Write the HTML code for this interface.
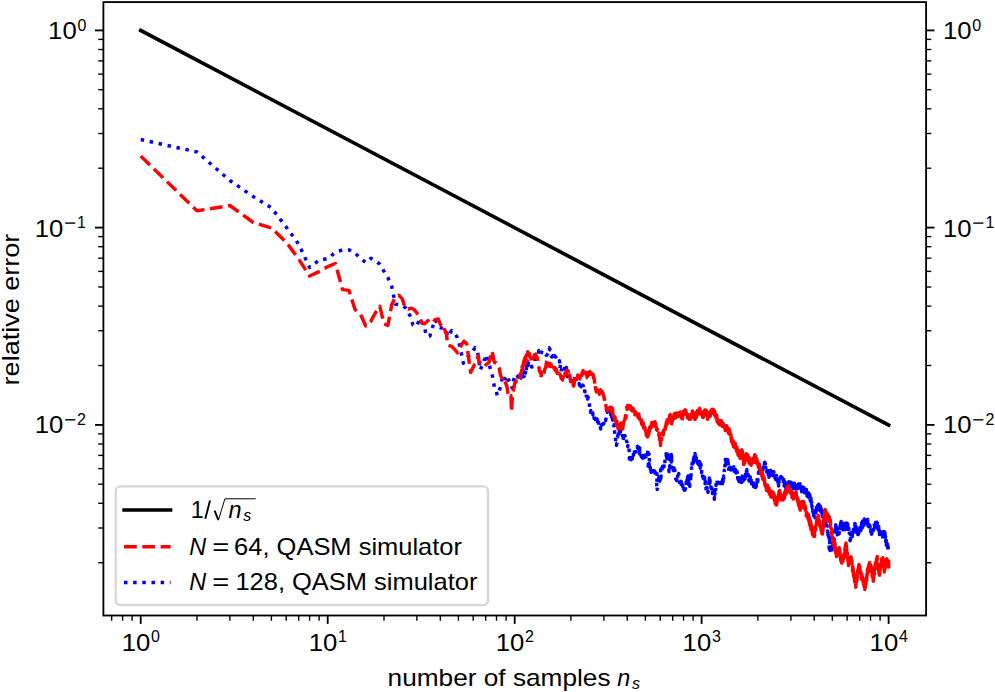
<!DOCTYPE html><html><head><meta charset="utf-8"><style>
html,body{margin:0;padding:0;background:#fff;width:995px;height:692px;overflow:hidden}
svg{display:block}
text{font-family:"Liberation Sans",sans-serif;fill:#000}
</style></head><body>
<svg width="995" height="692" viewBox="0 0 995 692">
<rect x="0" y="0" width="995" height="692" fill="#fff"/>
<defs><clipPath id="ax"><rect x="103.4" y="2.1" width="822.7" height="613.4"/></clipPath></defs>
<g clip-path="url(#ax)" fill="none">
<polyline points="140.7,139.5 197.0,152.0 229.9,180.5 253.3,196.6 271.4,207.8 286.2,227.0 298.7,244.2 309.6,267.5 319.1,260.2 327.7,258.6 335.4,252.3 342.5,249.9 349.0,249.9 355.0,253.0 360.6,258.6 365.8,262.6 370.8,258.3 375.4,261.0 379.8,264.2 384.0,271.3 387.9,277.7 391.7,286.4 395.3,304.0 398.8,304.7 400.4,304.7 405.6,307.8 410.4,316.4 413.0,325.1 416.5,326.4 419.9,318.6 424.3,326.8 426.4,335.9 429.9,335.9 432.5,327.3 435.1,319.5 439.0,327.3 445.9,329.2 447.8,336.7 451.7,330.5 456.9,336.7 459.5,345.1 461.5,354.2 463.4,363.3 465.4,359.4 470.6,354.2 475.1,347.7 477.7,352.3 479.0,361.4 480.3,370.1 481.6,366.6 482.7,364.7 483.8,360.7 484.9,358.8 486.2,354.6 487.1,358.2 488.1,363.3 489.4,365.6 490.7,369.7 491.7,373.1 492.7,377.4 493.6,382.7 494.6,388.1 495.5,389.1 496.4,391.9 497.2,395.5 498.3,393.7 499.4,390.2 500.5,387.1 501.8,379.5 502.8,378.8 503.7,382.4 504.6,379.3 505.5,377.1 506.3,375.3 507.2,377.3 508.1,380.2 508.9,380.0 509.7,382.8 510.5,384.6 511.3,385.6 512.1,387.8 512.8,388.1 513.5,380.9 514.5,377.1 515.4,374.3 516.2,374.4 517.0,375.0 517.8,376.7 518.6,377.2 519.3,377.7 520.1,378.7 520.8,378.0 521.6,376.1 522.3,376.7 523.0,376.0 523.8,376.7 524.5,375.8 525.2,372.1 525.8,372.0 526.5,367.8 527.1,367.3 527.8,366.9 528.4,363.5 527.7,365.6 527.0,365.2 526.3,368.3 525.6,369.7 524.9,370.1 524.2,372.1 523.5,371.4 522.8,373.6 522.1,374.4 521.4,375.4 520.7,376.0 520.0,378.3 520.8,378.2 521.6,376.4 522.3,376.6 523.1,374.3 523.9,375.9 524.6,374.0 525.2,373.4 525.9,371.1 526.5,367.6 527.2,366.2 527.8,365.4 528.5,363.0 529.1,364.1 529.8,362.8 530.4,362.3 531.1,363.4 531.7,367.1 532.4,366.2 533.0,364.0 533.7,361.9 534.3,360.9 535.0,357.1 535.6,357.2 536.3,356.4 536.9,356.5 537.6,354.9 538.2,353.8 538.9,350.4 539.4,351.3 539.9,351.6 540.5,353.9 541.0,354.6 541.6,352.1 542.1,352.6 542.7,353.1 543.2,353.3 543.8,354.5 544.4,355.1 545.0,354.1 545.5,353.4 546.1,355.2 546.7,355.3 547.2,354.3 547.7,354.1 548.2,351.4 548.7,349.1 549.3,347.8 549.8,349.9 550.2,349.5 550.7,354.7 551.2,356.2 551.7,356.9 552.2,356.9 552.7,355.7 553.2,356.0 553.7,355.2 554.1,357.6 554.6,355.6 555.1,356.0 555.6,357.2 556.1,357.7 556.6,359.0 557.1,358.5 557.6,358.8 558.0,359.9 558.5,360.1 559.0,361.7 559.5,360.8 560.0,364.8 560.5,364.2 561.0,362.8 560.5,364.9 560.1,367.1 559.7,368.9 560.1,367.9 560.6,370.9 561.0,371.5 561.5,369.3 561.9,369.4 562.4,367.7 562.9,367.7 563.3,368.8 563.8,368.4 564.2,370.8 564.7,367.9 565.1,367.2 565.5,371.1 566.0,369.3 566.4,367.5 566.8,369.2 567.3,366.9 567.7,369.0 568.1,370.9 567.7,371.5 567.3,372.0 567.0,371.2 566.6,372.9 566.2,373.2 566.6,376.1 567.0,375.3 567.5,376.7 567.9,375.0 568.3,374.9 568.8,377.7 569.2,378.8 569.6,378.5 570.1,378.6 570.5,380.2 570.9,381.3 571.4,380.6 571.7,381.5 572.1,380.4 572.5,378.5 572.9,378.2 573.2,378.9 573.6,378.5 574.0,380.0 574.3,381.3 574.7,379.1 575.1,381.4 575.5,381.8 575.8,381.7 576.2,379.1 576.6,378.5 576.9,379.1 577.3,379.5 577.7,380.1 578.1,382.6 578.4,384.5 578.8,384.8 579.2,383.6 579.5,384.6 579.9,385.5 580.2,382.4 580.6,385.3 580.9,386.7 581.3,386.3 581.6,386.3 582.0,385.2 582.3,384.0 582.7,387.1 583.0,385.1 583.4,387.6 583.7,388.6 584.1,386.9 584.4,388.0 584.7,391.7 585.0,391.8 585.4,390.1 585.7,391.0 586.0,391.8 586.3,396.1 586.7,396.3 587.0,393.7 587.3,397.7 587.6,399.1 588.0,398.2 588.3,397.3 588.6,400.2 588.9,400.1 589.3,401.5 589.6,408.2 589.9,408.5 590.2,409.9 590.5,412.4 590.8,410.4 591.1,413.1 591.4,413.4 591.7,410.8 592.0,411.5 592.3,412.2 592.6,412.5 592.9,414.7 593.2,413.6 593.5,414.9 593.8,413.9 594.1,418.4 594.4,416.1 594.7,417.1 595.0,418.3 595.3,420.4 595.6,418.5 595.9,421.5 596.2,419.9 596.5,420.5 596.8,421.0 597.1,418.9 597.4,421.6 597.7,420.8 598.0,420.3 598.3,425.0 598.6,422.2 598.9,424.3 599.2,426.1 599.5,425.7 599.8,425.0 600.1,426.6 600.4,427.3 600.7,429.0 600.9,425.0 601.2,427.0 601.5,425.0 601.7,424.8 602.0,427.0 602.3,425.2 602.5,425.1 602.8,425.8 603.1,426.3 603.4,423.4 603.6,423.9 603.9,422.9 604.2,422.2 604.5,422.5 604.7,420.4 605.0,420.1 605.3,419.1 605.6,420.8 605.9,418.8 606.1,418.2 606.4,417.0 606.6,411.7 606.9,411.8 607.2,412.3 607.4,412.0 607.7,408.4 607.9,408.6 608.2,410.6 608.4,408.8 608.7,410.0 608.9,409.3 609.2,412.8 609.4,413.7 609.7,414.6 609.9,410.8 610.2,414.1 610.4,414.1 610.6,411.4 610.9,415.8 611.1,416.5 611.4,412.6 611.6,416.9 611.9,414.1 612.1,414.8 612.4,417.9 612.6,420.0 612.8,419.3 613.0,423.8 613.3,425.1 613.5,424.9 613.8,424.8 614.0,426.3 614.3,429.4 614.5,428.0 614.7,433.6 615.0,435.6 615.2,434.8 615.5,438.1 615.7,441.3 616.0,442.2 616.3,441.2 616.5,445.5 616.8,443.3 617.0,443.3 617.3,437.3 617.6,437.2 617.8,435.2 618.0,438.8 618.3,435.3 618.5,433.8 618.8,434.8 619.0,437.0 619.3,435.8 619.5,431.9 619.8,430.6 620.0,434.5 620.2,431.8 620.5,431.9 620.7,427.7 621.0,426.9 621.2,429.9 621.5,427.7 621.7,427.2 622.0,433.8 622.2,433.6 622.5,436.1 622.8,433.5 623.0,438.2 623.2,433.7 623.5,438.5 623.7,436.3 624.0,435.8 624.2,437.2 624.5,439.6 624.7,435.9 625.0,435.6 625.2,438.4 625.5,437.3 625.8,437.0 626.0,437.8 626.3,438.2 626.5,440.2 626.8,441.8 627.1,442.8 627.3,446.5 627.6,444.6 627.8,446.7 628.0,445.6 628.3,447.4 628.5,446.3 628.8,448.4 629.0,447.9 629.3,452.9 629.3,459.0 629.5,456.7 629.8,458.3 630.0,460.9 630.2,455.9 630.5,459.9 630.7,457.6 631.0,457.8 631.2,459.7 631.5,457.0 631.7,457.5 631.9,458.4 632.2,460.1 632.4,456.2 632.7,458.9 632.9,458.1 633.2,457.5 633.4,454.7 633.6,452.8 633.8,449.6 634.1,449.7 634.3,449.0 634.6,452.7 634.8,449.5 635.1,448.7 635.3,447.9 635.6,452.1 635.8,452.0 636.1,450.5 636.3,447.9 636.6,447.4 636.8,447.4 637.1,448.0 637.3,446.3 637.6,448.1 637.8,447.0 638.1,451.2 638.3,451.3 638.6,448.9 638.8,447.1 639.1,451.4 639.3,447.6 639.6,447.9 639.8,445.9 640.1,448.2 640.3,448.8 640.1,450.0 639.8,449.2 639.5,452.1 639.3,450.1 639.0,452.7 639.3,451.8 639.5,453.7 639.7,451.6 640.0,451.6 640.2,453.4 640.5,453.0 640.7,455.2 641.0,455.0 641.2,456.4 641.5,455.9 641.7,456.3 641.9,457.4 642.2,454.5 642.4,454.2 642.7,458.2 642.9,453.3 643.2,456.7 643.4,456.2 643.7,452.6 643.9,457.2 644.2,457.5 644.4,455.9 644.7,456.5 644.9,456.9 645.2,452.8 645.4,455.1 645.7,454.9 645.9,456.8 646.2,456.6 646.4,456.5 646.7,454.9 646.9,456.5 647.2,455.1 647.4,454.9 647.7,452.0 647.9,450.6 648.2,451.0 648.4,452.1 648.7,450.4 648.9,454.6 649.2,452.7 649.4,453.0 649.4,460.1 649.2,461.5 648.9,461.4 648.6,459.5 648.4,465.3 648.1,466.1 648.4,465.0 648.6,465.6 648.9,466.7 649.1,463.6 649.4,468.0 649.6,465.5 649.9,464.8 650.1,466.4 650.4,469.6 650.6,466.8 650.9,470.4 651.1,472.3 651.4,469.7 651.6,469.2 651.9,470.0 652.1,471.4 652.4,472.0 652.6,471.3 652.9,471.6 653.1,468.3 653.4,468.9 653.6,469.7 653.9,472.9 654.1,470.4 654.4,472.1 654.6,468.9 654.9,469.6 655.1,471.3 655.3,474.1 655.6,474.7 655.8,475.0 656.0,473.1 656.3,474.9 656.5,475.0 656.8,475.4 657.0,473.7 657.2,478.8 657.0,477.2 656.8,484.5 656.6,486.9 656.8,482.4 657.0,486.1 657.2,489.4 657.5,488.6 657.7,483.8 658.0,481.0 658.3,478.9 658.5,481.7 658.8,477.1 659.0,479.3 659.2,476.5 659.5,478.7 659.7,481.2 659.9,476.1 660.2,480.1 660.4,478.1 660.7,480.3 660.9,479.1 661.1,476.1 660.9,478.2 660.7,473.7 660.5,469.0 660.7,468.6 660.9,471.3 661.2,470.7 661.4,469.5 661.6,468.3 661.9,469.2 662.1,468.8 662.3,471.7 662.6,466.3 662.8,470.6 663.0,470.9 663.3,466.2 663.5,470.9 663.7,469.3 663.9,469.0 664.2,463.9 664.4,463.0 664.6,461.7 664.8,464.0 665.0,460.1 665.2,458.0 665.5,457.8 665.7,456.2 665.9,454.1 666.1,453.8 666.3,457.7 666.6,454.4 666.8,458.4 667.0,454.3 667.2,454.5 667.5,456.0 667.7,454.1 667.9,455.4 668.1,459.0 668.4,458.7 668.6,458.3 668.8,457.2 669.0,459.1 669.3,459.3 669.5,457.0 669.7,458.1 669.9,454.0 670.2,458.3 670.4,456.7 670.6,458.6 670.8,458.0 671.1,455.9 671.3,454.5 671.5,460.0 671.7,455.1 672.0,457.3 672.2,456.6 672.0,457.0 671.7,460.5 671.5,462.7 671.3,459.0 671.1,462.1 670.9,460.7 670.7,463.0 670.4,462.7 670.2,462.0 670.0,462.7 669.8,463.8 669.6,468.8 669.4,467.1 669.1,466.1 668.9,471.1 669.1,471.6 669.4,468.2 669.6,466.2 669.8,466.5 670.0,465.8 670.2,467.3 670.4,465.7 670.7,466.5 670.9,466.6 671.1,468.4 671.3,470.3 671.5,469.4 671.7,467.3 672.0,467.2 672.2,467.8 672.4,466.9 672.6,466.6 672.8,464.8 673.0,466.1 673.3,470.3 673.5,465.0 673.7,468.1 673.9,469.6 674.1,471.7 674.3,468.4 674.6,469.5 674.8,470.1 675.0,471.7 675.2,472.8 675.4,476.6 675.6,477.7 675.9,479.6 676.1,476.0 676.3,475.8 676.5,479.7 676.7,480.5 676.9,477.5 677.2,477.9 677.4,474.0 677.6,476.1 677.8,479.1 678.0,478.1 678.3,478.0 678.5,478.4 678.7,473.5 678.9,474.8 679.1,477.3 679.3,481.8 679.6,483.1 679.8,485.0 680.0,484.0 680.2,483.8 680.4,484.9 680.6,483.3 680.9,484.2 681.1,481.3 681.3,486.3 681.5,483.2 681.7,487.8 681.9,486.4 682.2,485.0 682.4,484.6 682.6,486.1 682.8,489.3 683.0,490.4 683.2,487.4 683.5,487.9 683.7,491.5 683.9,492.5 684.1,490.5 684.3,488.7 684.5,490.3 684.7,485.8 684.9,486.9 685.1,487.1 685.3,489.4 685.4,486.7 685.6,487.4 685.8,484.1 686.0,482.3 686.2,482.2 686.4,486.5 686.6,484.7 686.8,482.0 687.0,480.0 687.2,482.8 687.4,483.7 687.6,481.9 687.8,480.7 688.0,483.1 688.2,484.5 688.4,479.9 688.7,477.8 688.9,478.9 689.1,478.5 689.3,479.3 689.5,475.4 689.7,478.3 689.5,478.1 689.3,476.8 689.1,475.1 688.9,480.1 688.7,476.1 688.5,479.5 688.3,475.9 688.1,476.0 687.9,479.6 687.7,476.8 687.6,481.1 687.4,478.4 687.2,476.6 687.4,477.3 687.6,478.9 687.8,480.9 688.0,483.0 688.2,478.4 688.4,480.3 688.6,479.6 688.8,484.8 689.0,480.0 689.2,479.8 689.4,480.2 689.6,482.7 689.8,486.3 690.0,484.1 690.2,481.0 690.4,480.5 690.6,478.9 690.8,474.0 691.0,472.0 691.1,475.6 691.3,473.3 691.5,467.7 691.7,470.6 691.9,466.4 692.1,463.9 692.4,461.3 692.6,459.8 692.8,458.3 693.0,459.6 693.2,459.6 693.4,463.0 693.6,457.3 693.8,462.2 694.0,456.9 694.2,457.4 694.4,459.9 694.6,459.5 694.8,456.5 695.0,453.6 695.2,456.7 695.3,456.3 695.5,460.1 695.7,455.8 695.9,457.3 696.1,461.0 696.3,455.8 696.5,458.5 696.7,461.4 696.9,461.5 697.1,457.1 697.3,457.3 697.5,457.7 697.7,463.4 697.8,459.4 698.0,462.7 698.2,463.9 698.4,460.6 698.6,460.4 698.8,465.0 699.0,463.1 699.1,461.0 699.3,464.2 699.5,461.8 699.7,462.2 699.9,461.0 700.1,466.4 700.3,468.0 700.5,466.8 700.7,469.4 700.9,464.1 701.1,466.0 701.3,468.1 701.5,471.8 701.6,472.6 701.8,469.8 702.0,469.8 702.2,471.8 702.4,473.0 702.6,476.6 702.8,472.7 703.0,477.2 703.1,477.3 703.3,478.3 703.5,478.5 703.7,478.0 703.9,476.7 704.1,477.2 704.3,478.0 704.5,481.2 704.7,477.2 704.9,479.1 705.1,483.8 705.3,481.6 705.5,481.6 705.6,482.5 705.8,486.9 706.0,486.6 706.2,491.3 706.4,491.1 706.5,492.3 706.7,488.1 706.9,487.4 707.1,488.0 707.3,491.0 707.4,492.8 707.6,491.6 707.8,490.7 708.0,492.4 708.1,491.6 708.3,489.9 708.5,488.4 708.7,487.0 708.9,483.8 709.1,478.2 709.3,480.8 709.4,478.0 709.6,480.5 709.8,479.9 710.0,483.0 710.1,480.2 710.3,481.2 710.5,481.9 710.7,482.1 710.9,487.5 711.0,486.2 711.2,485.3 711.4,486.3 711.6,490.7 711.8,488.2 711.9,487.0 712.1,491.3 712.3,490.9 712.5,493.6 712.7,488.5 712.8,491.5 713.0,494.2 713.2,495.0 713.4,496.0 713.6,491.0 713.7,493.2 713.9,492.6 714.1,493.7 714.3,499.3 714.5,497.4 714.6,498.0 714.8,492.7 715.0,494.3 715.1,490.0 715.3,487.7 715.5,489.9 715.7,489.8 715.9,483.3 716.0,485.4 716.2,484.4 716.4,480.7 716.6,481.6 716.8,480.0 716.9,480.3 717.1,480.6 717.3,482.7 717.5,483.0 717.6,480.0 717.8,478.7 718.0,480.6 718.1,482.8 718.3,479.5 718.5,480.3 718.7,479.5 718.8,483.2 719.0,481.5 719.2,478.7 719.4,479.2 719.5,481.3 719.7,482.6 719.9,483.4 720.1,480.1 720.2,480.9 720.4,484.6 720.6,483.0 720.8,482.4 720.9,482.8 721.1,487.3 721.3,483.4 721.4,485.3 721.6,484.2 721.8,483.9 721.9,486.2 722.1,486.4 722.3,481.6 722.4,479.9 722.6,482.7 722.8,478.7 722.9,476.7 723.1,481.7 723.2,477.8 723.4,479.5 723.6,476.1 723.7,478.3 723.9,474.8 724.1,472.0 724.2,470.3 724.4,472.3 724.5,471.4 724.7,471.7 724.9,464.9 725.0,466.4 725.2,462.8 725.4,461.7 725.5,457.5 725.7,458.6 725.9,460.3 726.0,463.1 726.2,458.1 726.4,460.8 726.6,463.0 726.7,464.3 726.9,459.5 727.1,459.3 727.3,464.8 727.4,465.2 727.6,462.2 727.8,459.7 727.9,465.5 728.1,462.3 728.3,467.6 728.4,467.7 728.6,471.0 728.8,468.6 728.9,472.4 729.1,468.5 729.3,469.5 729.4,472.1 729.6,471.7 729.7,467.3 729.9,467.3 730.1,468.2 730.2,468.7 730.4,467.6 730.6,465.7 730.7,466.2 730.9,469.1 731.0,470.0 731.2,464.2 731.4,467.3 731.5,468.8 731.7,464.3 731.9,469.7 732.0,465.2 732.2,468.5 732.3,468.4 732.5,469.1 732.7,467.2 732.8,468.1 733.0,469.4 733.2,468.6 733.3,470.3 733.5,469.1 733.6,469.2 733.8,466.8 734.0,470.8 734.1,470.2 734.3,468.7 734.5,472.3 734.6,472.6 734.8,470.8 734.9,469.2 735.1,471.4 735.3,469.2 735.4,469.6 735.6,471.8 735.8,469.9 735.9,472.4 736.1,473.1 736.2,470.3 736.4,474.4 736.6,471.0 736.7,475.5 736.9,476.0 737.1,474.5 737.2,471.8 737.4,475.1 737.5,474.6 737.7,478.6 737.9,473.7 738.0,478.6 738.2,479.9 738.4,478.5 738.5,479.4 738.7,475.7 738.9,481.1 739.0,478.2 739.2,481.6 739.3,481.4 739.5,476.7 739.7,480.8 739.8,481.8 740.0,476.3 740.2,478.3 740.3,481.0 740.5,477.3 740.6,482.2 740.8,478.2 741.0,481.9 741.1,477.6 741.3,479.8 741.5,482.4 741.6,477.7 741.8,477.9 741.9,479.3 742.1,478.0 742.3,476.1 742.4,476.9 742.6,476.6 742.8,481.5 742.9,479.7 743.1,481.0 743.2,476.2 743.4,480.1 743.6,475.6 743.7,478.2 743.9,478.6 744.0,476.5 744.2,479.5 744.3,477.2 744.5,477.1 744.7,478.8 744.8,473.4 745.0,478.9 745.1,476.3 745.3,474.5 745.4,476.8 745.6,473.1 745.7,477.5 745.9,474.6 746.0,472.9 746.2,475.2 746.4,472.8 746.5,470.8 746.7,474.2 746.8,469.5 747.0,474.2 747.1,471.8 747.3,475.6 747.5,479.2 747.6,477.9 747.8,478.5 747.9,476.3 748.1,474.4 748.2,474.8 748.4,475.7 748.6,478.8 748.7,477.7 748.9,478.4 749.0,481.0 749.2,476.2 749.3,476.9 749.5,479.8 749.6,475.8 749.8,475.8 750.0,478.2 750.1,476.7 750.3,478.5 750.4,477.7 750.6,480.2 750.7,480.4 750.9,478.0 751.0,480.9 751.2,480.1 751.3,478.1 751.5,483.6 751.6,479.2 751.8,478.8 751.9,478.7 752.1,482.4 752.2,484.1 752.4,483.7 752.5,481.5 752.7,480.8 752.8,479.3 753.0,483.7 753.1,483.3 753.3,482.1 753.4,484.3 753.6,483.1 753.7,486.6 753.9,485.4 754.0,482.5 754.2,486.9 754.3,481.5 754.5,484.9 754.6,484.3 754.8,483.4 754.9,482.1 755.1,486.7 755.2,481.6 755.4,485.0 755.5,487.5 755.7,482.2 755.8,482.5 756.0,485.0 756.1,484.3 756.3,485.0 756.4,486.1 756.6,481.8 756.7,482.6 756.9,481.9 757.0,479.7 757.2,484.6 757.3,483.3 757.5,482.3 757.6,477.1 757.7,482.0 757.9,480.8 758.0,478.4 758.2,479.2 758.3,476.3 758.5,473.8 758.6,472.0 758.8,471.8 758.9,469.5 759.0,470.5 759.2,472.1 759.3,470.8 759.5,471.7 759.6,470.7 759.8,467.8 759.9,469.6 760.1,468.7 760.2,471.0 760.3,469.2 760.5,467.4 760.6,469.8 760.8,471.8 760.9,466.9 761.1,471.1 761.2,465.4 761.4,466.9 761.5,466.7 761.6,469.9 761.8,471.2 761.9,469.8 762.1,466.9 762.2,470.3 762.4,466.4 762.5,465.6 762.7,469.8 762.8,467.8 762.9,467.9 763.1,467.6 763.2,469.4 763.4,465.8 763.5,468.0 763.7,466.9 763.8,467.7 764.0,464.8 764.1,466.4 764.2,465.2 764.4,463.3 764.5,462.4 764.7,465.5 764.8,462.3 765.0,468.2 765.1,463.6 765.3,463.2 765.4,464.1 765.6,469.9 765.7,466.5 765.9,465.6 766.0,465.2 766.2,465.7 766.3,470.4 766.5,470.4 766.6,471.2 766.8,471.9 766.9,468.0 767.1,471.8 767.2,470.8 767.4,474.2 767.5,474.6 767.6,475.5 767.8,470.6 767.9,476.0 768.1,476.5 768.2,476.9 768.3,471.6 768.5,472.4 768.6,472.0 768.8,471.7 768.9,477.2 769.0,477.1 769.2,476.1 769.3,477.6 769.5,476.5 769.6,474.4 769.7,473.4 769.9,472.9 770.0,476.8 770.2,472.8 770.3,473.1 770.5,473.3 770.6,470.3 770.8,471.4 770.9,471.1 771.1,473.5 771.2,471.4 771.3,471.2 771.5,475.6 771.6,472.7 771.8,475.1 771.9,473.8 772.1,470.1 772.2,472.7 772.4,473.0 772.5,475.3 772.6,472.7 772.8,475.2 772.9,474.2 773.1,472.3 773.2,476.6 773.4,471.7 773.5,476.7 773.7,472.6 773.8,471.6 773.9,473.0 774.1,476.8 774.2,478.4 774.3,472.1 774.5,475.5 774.6,475.6 774.8,477.7 774.9,473.9 775.0,476.0 775.2,475.2 775.3,478.5 775.4,474.9 775.6,479.5 775.7,475.3 775.8,475.0 776.0,478.3 776.1,477.2 776.3,474.8 776.4,478.7 776.5,475.5 776.7,480.6 776.8,480.5 777.0,481.5 777.1,480.9 777.2,479.6 777.4,480.4 777.5,480.8 777.7,484.5 777.8,479.7 777.9,485.4 778.1,480.2 778.2,481.9 778.3,482.0 778.5,485.9 778.6,483.0 778.8,481.9 778.9,485.0 779.0,480.4 779.2,481.6 779.3,481.8 779.4,483.0 779.6,482.7 779.7,481.8 779.9,479.5 780.0,479.1 780.1,477.7 780.3,482.0 780.4,480.5 780.5,480.7 780.7,476.7 780.8,478.2 780.9,480.6 781.1,479.5 781.2,476.6 781.4,479.0 781.5,482.0 781.6,477.9 781.8,477.7 781.9,478.6 782.0,481.4 782.2,482.5 782.3,478.1 782.4,478.3 782.6,479.1 782.7,479.7 782.8,481.2 783.0,479.0 783.1,480.2 783.2,479.5 783.4,484.8 783.5,483.4 783.7,479.4 783.8,485.2 783.9,479.7 784.1,481.8 784.2,486.0 784.3,485.0 784.5,484.9 784.6,483.2 784.8,481.9 784.9,485.1 785.0,481.9 785.2,482.8 785.3,484.3 785.5,482.2 785.6,484.9 785.7,487.8 785.9,487.4 786.0,486.4 786.1,487.1 786.3,485.7 786.4,483.4 786.6,486.2 786.7,484.7 786.8,486.7 787.0,487.6 787.1,484.2 787.2,485.0 787.4,485.9 787.5,483.5 787.6,482.0 787.8,485.1 787.9,485.9 788.0,485.0 788.2,484.3 788.3,485.0 788.4,483.7 788.6,483.2 788.7,481.8 788.9,480.6 789.0,482.5 789.1,478.8 789.3,480.7 789.4,483.3 789.5,483.0 789.7,482.7 789.8,480.3 789.9,481.7 790.0,482.1 790.2,483.4 790.3,482.2 790.4,484.1 790.6,486.0 790.7,481.3 790.8,484.6 791.0,485.6 791.1,483.2 791.2,484.1 791.3,487.5 791.5,481.5 791.6,485.0 791.7,482.7 791.9,487.0 792.0,488.1 792.1,485.3 792.3,482.6 792.4,485.8 792.5,485.6 792.6,486.9 792.8,485.6 792.9,486.4 793.0,487.8 793.2,485.8 793.3,485.1 793.4,488.7 793.6,483.9 793.7,487.1 793.8,485.2 793.9,487.7 794.1,483.5 794.2,489.2 794.3,485.2 794.5,483.2 794.6,484.7 794.7,485.6 794.9,483.1 795.0,485.8 795.1,485.9 795.2,487.7 795.4,485.4 795.5,484.8 795.6,484.5 795.8,487.8 795.9,489.1 796.0,486.3 796.2,484.3 796.3,488.1 796.4,485.3 796.5,484.1 796.7,483.5 796.8,487.8 796.9,487.9 797.1,486.7 797.2,485.6 797.3,486.2 797.5,483.9 797.6,488.8 797.7,484.7 797.8,486.6 798.0,487.7 798.1,487.6 798.2,485.3 798.4,484.1 798.5,485.8 798.6,482.9 798.8,487.6 798.9,484.4 799.0,487.6 799.1,483.7 799.3,484.4 799.4,483.6 799.5,484.7 799.7,483.0 799.8,482.1 799.9,487.1 800.1,484.5 800.2,484.5 800.3,485.1 800.4,486.5 800.6,486.5 800.7,488.1 800.8,488.5 801.0,486.8 801.1,490.8 801.2,490.6 801.4,485.6 801.5,490.9 801.6,491.7 801.7,490.9 801.9,486.7 802.0,491.4 802.1,490.1 802.3,486.1 802.4,486.1 802.5,492.4 802.7,490.5 802.8,487.8 802.9,486.9 803.0,487.2 803.2,487.9 803.3,491.5 803.4,488.7 803.6,487.5 803.7,492.5 803.8,491.8 804.0,487.8 804.1,492.6 804.2,490.8 804.3,492.0 804.5,491.3 804.6,492.8 804.7,492.2 804.9,492.6 805.0,488.5 805.1,492.0 805.2,491.1 805.4,492.7 805.5,490.8 805.6,494.0 805.7,492.0 805.9,490.2 806.0,490.2 806.1,489.8 806.2,492.3 806.4,489.6 806.5,492.5 806.6,490.6 806.7,493.0 806.9,493.3 807.0,493.7 807.1,496.1 807.2,490.6 807.3,496.3 807.5,494.0 807.6,494.8 807.7,495.7 807.8,497.0 808.0,494.1 808.1,494.6 808.2,498.4 808.3,492.7 808.5,496.6 808.6,496.8 808.7,493.0 808.8,497.0 809.0,497.7 809.1,499.5 809.2,495.7 809.3,500.2 809.5,497.3 809.6,497.3 809.7,500.2 809.8,494.7 809.9,499.4 810.1,499.0 810.2,497.3 810.3,501.0 810.5,498.0 810.6,499.0 810.7,499.6 810.9,501.5 811.0,498.0 811.1,499.8 811.2,499.9 811.4,501.1 811.5,504.2 811.6,502.0 811.8,506.8 811.9,505.3 812.0,507.2 812.1,506.1 812.3,508.1 812.4,511.7 812.5,510.0 812.6,511.3 812.8,508.7 812.9,509.0 813.0,509.4 813.1,511.7 813.3,512.5 813.4,513.9 813.5,509.4 813.6,514.3 813.8,515.8 813.9,514.0 814.0,511.2 814.1,513.3 814.3,511.8 814.4,513.4 814.5,518.7 814.6,517.0 814.7,516.9 814.9,517.4 815.0,517.7 815.1,515.3 815.2,514.9 815.4,514.6 815.5,514.6 815.6,513.5 815.7,513.6 815.9,510.1 816.0,512.7 816.1,510.8 816.2,512.4 816.4,507.6 816.5,507.7 816.6,506.3 816.7,510.8 816.9,511.3 817.0,509.1 817.1,506.8 817.2,509.4 817.3,509.1 817.5,507.6 817.6,505.6 817.7,505.9 817.8,506.7 818.0,506.0 818.1,506.8 818.2,508.2 818.3,510.1 818.5,504.3 818.6,507.7 818.7,504.2 818.8,504.7 819.0,509.3 819.1,507.7 819.2,510.0 819.3,506.9 819.5,504.0 819.6,506.5 819.7,507.8 819.8,510.1 819.9,510.8 820.1,507.8 820.2,507.7 820.3,506.0 820.4,510.0 820.5,507.4 820.7,507.4 820.8,506.8 820.9,507.1 821.0,512.0 821.1,508.6 821.2,514.7 821.4,509.4 821.5,515.0 821.6,510.6 821.7,510.4 821.9,515.5 822.0,512.8 822.1,516.6 822.2,513.4 822.3,513.0 822.5,518.3 822.6,518.4 822.7,519.8 822.8,519.5 823.0,515.7 823.1,519.8 823.2,520.5 823.3,519.0 823.4,522.3 823.6,518.0 823.7,522.9 823.8,521.4 823.9,516.9 824.0,517.1 824.1,521.5 824.3,522.8 824.4,518.1 824.5,519.8 824.6,522.8 824.7,519.2 824.9,524.0 825.0,521.7 825.1,519.0 825.2,521.2 825.3,522.8 825.4,522.1 825.6,523.8 825.7,520.5 825.8,525.3 825.9,522.9 826.0,525.3 826.2,525.6 826.3,524.7 826.4,525.0 826.5,528.1 826.7,529.7 826.8,529.1 826.9,528.2 827.0,526.8 827.1,525.8 827.3,532.3 827.4,531.0 827.5,532.3 827.6,529.5 827.7,532.0 827.9,535.2 828.0,535.0 828.1,534.1 828.2,532.9 828.3,534.4 828.5,538.2 828.6,535.5 828.7,538.2 828.8,538.4 828.9,541.1 829.0,540.6 829.2,537.1 829.3,535.3 829.4,537.2 829.5,538.3 829.6,539.5 829.7,541.1 829.8,541.6 830.0,536.1 830.1,541.4 830.2,541.4 830.3,541.8 830.4,539.9 830.5,538.0 830.7,541.9 830.8,541.7 830.9,541.0 830.8,543.0 830.6,539.7 830.5,538.4 830.4,542.0 830.3,544.1 830.2,540.6 830.1,544.7 829.9,546.4 829.8,542.2 829.7,545.2 829.6,546.1 829.5,545.2 829.3,543.9 829.2,544.7 829.1,548.5 829.2,548.9 829.3,546.8 829.5,544.4 829.6,549.3 829.7,549.2 829.8,545.8 829.9,548.2 830.0,550.4 830.2,550.4 830.3,548.1 830.4,548.0 830.5,548.8 830.6,546.3 830.8,546.4 830.9,546.5 831.0,550.1 831.1,547.9 831.2,549.4 831.4,548.4 831.5,549.3 831.6,547.0 831.7,546.4 831.8,552.1 831.9,547.4 832.1,545.0 832.2,547.9 832.3,548.4 832.4,543.6 832.5,545.9 832.7,543.7 832.8,544.2 832.9,540.3 833.0,539.8 833.1,545.6 833.2,544.2 833.4,541.1 833.5,541.0 833.6,538.4 833.7,541.2 833.8,538.3 834.0,541.2 834.1,539.4 834.2,539.1 834.3,539.5 834.4,533.9 834.5,531.7 834.7,531.9 834.8,531.0 834.9,529.5 835.0,528.5 835.1,531.0 835.3,532.3 835.4,528.7 835.5,531.1 835.6,530.0 835.7,524.7 835.8,528.5 835.9,527.5 836.1,525.9 836.2,531.8 836.3,527.4 836.4,529.7 836.5,530.5 836.6,532.9 836.7,531.3 836.9,529.7 837.0,530.4 837.1,528.7 837.2,534.4 837.3,534.8 837.4,530.0 837.5,529.0 837.6,530.8 837.8,531.7 837.9,535.7 838.0,535.9 838.1,535.8 838.2,530.8 838.3,535.4 838.4,534.5 838.6,533.7 838.7,535.6 838.8,529.0 838.9,529.2 839.0,532.9 839.1,533.8 839.3,531.7 839.4,528.8 839.5,530.3 839.6,531.1 839.7,526.3 839.8,527.4 839.9,526.6 840.1,525.4 840.2,527.4 840.3,524.9 840.4,525.0 840.5,524.0 840.6,527.2 840.8,522.4 840.9,526.7 841.0,522.9 841.1,521.4 841.2,527.0 841.3,521.9 841.5,526.3 841.6,526.2 841.7,526.8 841.8,522.1 841.9,524.6 842.0,522.6 842.1,528.6 842.3,528.4 842.4,527.3 842.5,526.5 842.6,526.2 842.7,529.8 842.8,527.9 843.0,529.2 843.1,526.4 843.2,527.3 843.3,526.6 843.4,531.3 843.5,530.0 843.6,527.1 843.7,531.7 843.9,527.4 844.0,528.2 844.1,526.3 844.2,526.8 844.3,530.4 844.4,526.8 844.5,525.4 844.7,527.4 844.8,526.0 844.9,529.7 845.0,524.2 845.1,529.7 845.2,523.3 845.3,528.7 845.4,527.0 845.6,523.7 845.7,525.2 845.8,523.7 845.9,523.3 846.0,522.7 846.1,524.0 846.2,528.3 846.4,528.6 846.5,528.2 846.6,522.9 846.7,524.3 846.8,528.6 846.9,523.1 847.0,527.8 847.1,525.0 847.3,529.8 847.4,523.5 847.5,529.0 847.6,526.0 847.7,524.8 847.8,524.1 847.9,529.8 848.0,527.9 848.2,525.8 848.3,527.7 848.4,531.0 848.5,526.6 848.6,529.1 848.7,527.1 848.8,528.2 848.9,533.0 849.0,533.5 849.2,530.9 849.3,531.0 849.4,531.9 849.5,536.3 849.6,536.4 849.7,535.8 849.8,536.2 849.9,539.8 850.0,540.2 850.1,540.7 850.3,538.9 850.4,536.1 850.5,535.0 850.6,539.2 850.7,536.8 850.8,538.7 850.9,534.0 851.0,538.8 851.2,535.4 851.3,538.6 851.4,538.5 851.5,535.8 851.6,532.4 851.7,538.1 851.8,535.0 851.9,537.4 852.1,533.2 852.2,532.4 852.3,536.5 852.4,533.1 852.5,531.6 852.6,532.6 852.7,533.8 852.8,529.5 852.9,532.6 853.1,531.8 853.2,532.0 853.3,529.0 853.4,532.7 853.5,533.0 853.6,533.0 853.7,529.0 853.8,531.3 853.9,528.8 854.0,530.9 854.1,526.0 854.2,531.1 854.4,531.3 854.5,527.9 854.6,527.7 854.7,527.5 854.8,527.2 854.9,523.4 855.0,529.5 855.1,524.2 855.2,524.2 855.3,523.9 855.4,525.1 855.5,529.2 855.7,524.2 855.8,524.9 855.9,529.2 856.0,526.1 856.1,525.2 856.2,529.4 856.3,529.5 856.4,529.4 856.5,530.9 856.6,527.1 856.7,532.6 856.8,531.8 857.0,527.6 857.1,528.4 857.2,531.1 857.3,531.4 857.4,530.2 857.5,529.4 857.6,531.6 857.7,530.1 857.8,532.9 857.9,534.6 858.0,529.6 858.1,532.3 858.3,533.3 858.4,529.2 858.5,533.4 858.6,534.0 858.7,530.1 858.8,530.2 858.9,532.8 859.0,530.5 859.1,529.5 859.2,532.9 859.3,531.7 859.5,528.5 859.6,527.7 859.7,528.2 859.8,528.6 859.9,532.1 860.0,530.8 860.1,531.3 860.2,530.5 860.3,530.5 860.4,525.0 860.5,527.9 860.6,530.7 860.8,530.4 860.9,525.6 861.0,526.6 861.1,527.8 861.2,525.8 861.3,526.8 861.4,523.5 861.5,525.7 861.6,526.0 861.7,522.6 861.8,523.2 861.9,528.6 862.1,527.1 862.2,528.0 862.3,525.8 862.4,526.8 862.5,527.1 862.6,526.9 862.7,521.0 862.8,524.9 862.9,522.2 863.0,524.7 863.1,521.8 863.2,523.5 863.4,525.8 863.5,523.6 863.6,520.9 863.7,522.5 863.8,521.8 863.9,525.1 864.0,520.4 864.1,520.3 864.2,522.5 864.3,518.9 864.4,522.1 864.5,524.6 864.6,521.6 864.7,520.0 864.8,521.4 865.0,521.8 865.1,519.3 865.2,519.1 865.3,519.2 865.4,520.3 865.5,521.1 865.6,520.3 865.7,520.0 865.8,519.0 865.9,522.1 866.0,524.1 866.1,522.6 866.2,522.3 866.3,522.9 866.4,519.9 866.5,523.3 866.6,521.7 866.7,522.3 866.8,522.7 866.9,521.8 867.1,520.7 867.2,520.3 867.3,520.2 867.4,522.2 867.5,521.3 867.6,522.9 867.7,519.3 867.8,521.9 867.9,525.6 868.0,521.6 868.1,524.1 868.2,523.9 868.3,522.7 868.4,527.7 868.5,523.3 868.6,526.8 868.7,522.9 868.8,522.6 868.9,528.3 869.0,525.6 869.1,523.3 869.2,525.8 869.3,526.4 869.4,528.6 869.6,524.7 869.7,525.7 869.8,530.9 869.9,529.7 870.0,526.0 870.1,527.5 870.2,527.8 870.3,530.2 870.4,530.0 870.5,531.8 870.6,531.8 870.7,530.0 870.8,531.7 870.9,531.9 871.0,532.2 871.1,530.5 871.2,532.8 871.3,532.5 871.4,534.1 871.5,529.0 871.6,534.2 871.7,528.6 871.8,533.9 871.9,532.9 872.0,532.5 872.1,535.3 872.2,532.4 872.3,531.0 872.4,533.2 872.5,533.5 872.6,531.4 872.8,529.5 872.9,529.7 873.0,529.4 873.1,530.9 873.2,527.7 873.3,528.0 873.4,528.8 873.5,527.4 873.6,526.6 873.7,529.5 873.8,529.6 873.9,526.9 874.0,526.2 874.1,524.1 874.2,524.6 874.3,523.3 874.4,525.8 874.5,525.6 874.6,521.9 874.7,527.4 874.8,523.3 874.9,526.7 875.0,526.6 875.1,527.3 875.2,522.1 875.3,523.5 875.4,526.7 875.5,520.5 875.7,520.6 875.8,524.0 875.9,523.5 876.0,526.2 876.1,525.1 876.2,523.4 876.3,526.4 876.4,523.1 876.5,523.0 876.6,524.0 876.7,522.3 876.8,522.3 876.9,524.1 877.0,522.7 877.1,527.0 877.2,525.4 877.3,524.6 877.4,522.0 877.5,524.1 877.6,524.5 877.7,525.8 877.8,526.1 877.9,528.4 878.0,529.3 878.1,526.3 878.2,526.2 878.3,527.7 878.4,530.4 878.5,526.3 878.6,528.0 878.7,530.4 878.8,526.6 878.9,528.1 879.0,533.0 879.1,532.5 879.2,530.9 879.3,528.7 879.4,534.5 879.5,533.6 879.6,535.0 879.7,536.6 879.8,536.4 879.9,533.4 880.0,531.7 880.1,532.7 880.2,534.3 880.3,534.4 880.4,532.3 880.6,532.4 880.7,535.5 880.8,535.4 880.9,533.9 881.0,538.3 881.1,536.0 881.2,532.1 881.3,534.7 881.4,537.3 881.5,534.2 881.6,536.9 881.7,532.3 881.8,534.5 881.9,538.2 882.0,536.6 882.1,537.2 882.2,534.2 882.3,536.3 882.4,536.8 882.5,534.6 882.6,537.0 882.7,536.0 882.8,539.0 882.9,535.9 883.0,534.6 883.1,532.4 883.2,532.5 883.4,536.3 883.5,531.7 883.6,531.5 883.7,531.7 883.8,533.9 883.9,535.7 884.0,534.1 884.1,535.2 884.2,530.0 884.3,529.4 884.4,534.3 884.5,531.8 884.6,535.0 884.7,533.0 884.8,532.3 884.9,533.4 885.0,532.8 885.1,538.7 885.2,537.1 885.3,536.0 885.4,537.2 885.5,537.2 885.6,535.5 885.7,541.7 885.8,540.0 885.9,543.0 886.0,540.0 886.1,541.6 886.2,539.6 886.3,538.6 886.4,545.1 886.5,545.0 886.6,541.8 886.7,546.2 886.8,546.1 886.9,543.1 887.0,545.6 887.1,548.2 887.2,545.3 887.3,548.7 887.4,544.1 887.5,545.4 887.6,547.9 887.7,544.7 887.8,545.6 887.9,549.7 888.0,547.3 888.1,549.6 888.2,546.1 888.3,545.9" stroke="#0000ff" stroke-width="3.46" stroke-dasharray="3.46 5.70" stroke-linejoin="round" stroke-linecap="butt"/>
<polyline points="140.7,156.1 197.0,210.8 229.9,205.5 253.3,222.5 271.4,228.0 286.2,242.2 298.7,259.0 309.6,276.0 319.1,271.6 327.7,266.6 335.4,263.5 342.5,289.6 349.0,290.4 355.0,309.5 360.6,314.5 365.8,326.0 370.8,321.4 375.4,312.7 379.8,306.3 384.0,323.8 387.9,325.4 391.7,304.7 395.3,297.0 398.8,295.2 402.1,298.6 405.3,308.0 408.3,309.0 411.3,308.2 414.1,309.5 416.9,313.0 419.6,318.0 422.1,323.0 424.6,323.8 427.1,321.5 429.4,319.5 431.7,317.6 433.9,319.9 436.1,319.5 438.2,319.0 440.3,324.2 442.5,327.3 444.2,328.6 443.9,327.6 446.5,334.7 447.8,345.1 451.7,346.4 454.3,349.0 457.6,352.9 462.1,343.8 464.1,341.2 466.7,343.8 468.0,352.9 469.3,363.3 470.6,372.4 472.5,368.5 474.5,364.6 476.4,363.3 478.4,355.5 479.0,362.0 480.3,362.8 481.6,364.7 482.7,364.8 483.8,365.7 484.9,366.2 486.2,364.4 487.5,363.6 488.8,362.7 490.1,358.9 491.4,351.0 492.7,354.0 494.0,361.3 494.8,362.8 495.7,362.6 496.6,363.7 497.4,363.8 498.3,366.2 499.2,368.1 500.5,375.1 501.8,378.2 502.6,378.3 503.5,376.9 504.4,378.9 505.2,381.8 506.1,384.3 507.0,386.8 508.0,393.6 508.9,397.1 509.9,396.4 510.9,395.6 511.5,411.6 512.3,398.2 513.5,389.0 514.1,386.9 514.8,382.7 515.8,382.1 516.7,380.0 517.7,379.7 518.7,381.7 519.3,378.9 520.0,378.2 520.6,373.5 521.3,372.5 521.9,369.9 522.6,368.9 523.2,366.9 523.9,363.3 524.5,360.6 525.2,357.1 525.8,356.8 526.5,354.8 527.1,354.3 527.8,354.6 528.4,355.5 529.1,354.9 529.7,353.8 529.0,357.3 528.3,358.8 527.6,359.8 526.9,359.9 526.2,361.6 525.5,361.2 524.8,364.4 524.1,364.8 523.4,365.1 522.7,365.6 522.0,369.3 521.3,370.9 522.0,366.9 522.6,367.8 523.3,364.3 523.9,361.2 524.6,359.3 525.2,358.6 525.9,357.2 526.5,352.8 527.2,352.9 527.8,351.7 528.5,354.5 529.1,353.9 529.8,356.4 530.4,358.0 531.1,357.7 531.7,360.7 532.4,357.9 533.0,356.7 533.7,358.1 534.3,355.0 535.0,354.5 535.6,354.1 536.3,356.8 536.9,357.2 537.6,358.7 538.2,365.5 538.9,367.5 539.5,371.1 540.2,372.2 540.8,371.6 541.5,373.2 540.8,377.3 541.5,376.4 542.1,375.0 542.8,373.5 543.4,372.5 544.1,372.3 544.7,369.4 545.4,367.9 546.0,365.7 546.7,360.6 547.3,362.2 548.0,366.0 548.5,364.7 549.0,365.2 549.5,363.5 550.0,365.5 550.6,366.5 551.1,364.2 551.5,366.3 552.0,366.2 552.5,363.8 553.0,366.7 553.5,366.7 554.0,368.2 554.5,367.5 555.0,369.7 555.4,370.7 555.9,368.7 556.4,369.6 556.9,372.2 557.4,373.5 557.9,370.9 558.4,371.8 558.9,373.4 559.3,373.2 559.8,374.4 560.3,375.2 560.8,376.5 561.2,378.5 561.6,378.4 562.1,378.5 562.6,380.0 563.1,376.7 563.6,378.8 564.0,378.2 564.4,375.1 564.9,373.5 565.3,375.2 565.6,372.2 566.0,371.4 566.4,371.8 566.8,372.2 567.2,370.2 567.6,371.7 568.0,372.2 568.4,374.9 568.8,373.7 569.2,376.7 569.6,374.9 570.1,376.9 570.5,379.4 570.9,381.6 571.4,380.9 571.8,381.9 572.2,383.4 572.7,387.1 573.1,384.6 573.5,386.1 574.0,385.2 574.4,380.8 574.8,379.6 575.1,380.4 575.5,378.1 575.9,377.3 576.3,375.2 576.7,374.3 577.1,375.0 577.5,377.2 577.9,374.9 578.3,375.5 578.7,376.1 579.0,376.3 579.4,376.6 579.8,379.1 580.2,374.9 580.6,373.5 580.9,377.0 581.3,376.0 581.7,375.7 582.1,372.5 582.4,374.1 582.8,373.9 583.1,370.5 583.4,372.8 583.7,373.1 584.1,372.2 584.4,371.5 584.7,370.7 585.0,371.3 585.4,371.1 585.7,370.7 586.0,373.4 586.3,372.3 586.7,375.7 587.0,373.2 587.3,378.1 587.6,378.1 588.0,378.6 588.3,377.8 588.6,377.1 588.9,375.0 589.3,371.7 589.6,374.5 589.9,371.8 590.2,372.4 590.6,374.1 590.9,373.4 591.2,372.9 591.5,375.4 591.9,373.9 592.2,372.6 592.5,372.1 592.8,375.1 593.2,374.8 593.5,377.9 593.8,377.5 594.1,378.4 594.5,381.6 594.8,384.6 595.1,383.1 595.4,387.7 595.8,389.7 596.1,390.4 596.4,391.8 596.7,389.1 597.0,392.3 597.3,393.6 597.6,389.8 597.9,391.0 598.2,391.1 598.5,392.5 598.8,392.2 599.0,392.6 599.3,394.2 599.6,390.2 599.9,390.3 600.2,390.4 600.4,390.2 600.7,389.8 601.0,394.1 601.3,393.3 601.6,389.8 601.8,392.3 602.1,391.7 602.4,392.1 602.7,392.6 603.0,394.5 603.2,394.6 603.6,395.4 603.9,396.5 604.1,398.5 604.4,398.7 604.7,402.2 604.9,404.3 605.2,403.9 605.4,403.2 605.7,404.5 606.0,406.2 606.2,408.2 606.5,409.9 606.7,407.9 607.0,410.2 607.2,409.4 607.5,408.5 607.7,408.3 608.0,409.0 608.2,410.2 608.5,408.8 608.7,410.3 609.0,409.2 609.2,408.2 609.5,409.8 609.7,410.7 610.0,407.3 610.2,408.9 610.5,408.7 610.7,410.8 611.0,410.9 611.2,407.8 611.5,410.3 611.7,409.5 612.0,407.6 612.2,409.6 612.5,408.7 612.7,413.2 613.0,413.4 613.2,416.3 613.4,417.5 613.7,418.6 613.9,419.3 614.1,418.7 614.4,416.6 614.6,419.5 614.9,416.7 615.1,417.8 615.4,421.4 615.6,417.9 615.9,418.8 616.1,419.5 616.3,424.3 616.6,421.2 616.8,421.0 617.1,426.0 617.3,422.8 617.6,427.4 617.8,426.8 618.0,428.0 618.3,428.9 618.5,427.2 618.8,428.8 619.0,425.0 619.3,429.2 619.5,428.2 619.8,428.8 620.0,425.0 620.3,427.9 620.5,428.4 620.8,423.1 621.1,424.8 621.3,426.4 621.5,428.0 621.8,425.1 622.0,425.0 622.3,425.6 622.5,427.9 622.8,428.8 623.0,425.8 623.2,424.6 623.5,423.7 623.7,422.4 624.0,421.7 624.2,418.9 624.5,420.1 624.7,421.6 625.0,418.0 625.2,419.3 625.5,415.6 625.8,418.0 626.0,417.8 626.2,414.3 626.4,410.4 626.7,407.2 626.9,408.2 627.1,409.6 627.4,405.6 627.6,405.4 627.9,409.1 628.1,410.1 628.4,408.0 628.6,407.7 628.9,409.1 629.1,406.1 629.4,406.5 629.7,406.1 629.9,408.1 630.2,406.6 630.4,406.0 630.7,408.5 631.0,409.9 631.2,406.2 631.5,408.9 631.7,407.8 631.9,410.7 632.2,409.7 632.4,408.5 632.7,408.7 632.9,408.1 633.2,411.1 633.4,410.7 633.7,409.7 633.9,410.8 634.2,410.8 634.5,413.4 634.7,410.0 635.0,414.8 635.2,412.1 635.5,412.9 635.8,412.3 636.0,414.6 636.3,414.8 636.5,413.6 636.8,413.5 637.1,415.0 637.3,416.0 637.6,413.8 637.8,415.9 638.1,417.4 638.4,414.9 638.6,413.9 638.9,414.3 639.1,417.3 639.3,417.4 639.6,419.3 639.8,419.0 640.1,416.0 640.3,416.0 640.6,417.2 640.8,417.5 641.1,421.2 641.4,422.8 641.6,423.8 641.9,420.8 642.1,424.8 642.3,422.3 642.6,423.5 642.8,425.7 643.1,422.7 643.3,423.3 643.6,428.0 643.8,425.6 644.1,426.5 644.3,428.3 644.5,429.4 644.8,426.3 645.0,428.7 645.3,429.8 645.5,430.6 645.8,429.8 646.0,432.5 646.3,435.2 646.5,432.7 646.7,434.2 647.0,432.5 647.2,434.0 647.5,436.9 647.7,432.8 648.0,436.3 648.3,435.5 648.5,430.0 648.8,433.9 649.0,429.9 649.3,431.4 649.5,430.6 649.7,427.3 650.0,428.7 650.2,427.8 650.5,428.0 650.7,424.2 651.0,426.8 651.2,427.8 651.5,426.0 651.7,425.1 651.9,422.5 652.2,424.5 652.4,423.5 652.7,425.5 652.9,425.1 653.2,424.4 653.4,422.2 653.6,424.7 653.9,424.6 654.1,421.9 654.4,425.9 654.6,424.4 654.9,421.8 655.1,426.8 655.4,422.7 655.7,424.2 655.9,426.8 656.2,427.2 656.4,428.2 656.7,429.9 657.0,430.0 657.2,430.3 657.5,429.9 657.7,429.7 658.0,433.8 658.2,434.4 658.4,433.6 658.7,435.2 658.9,433.4 659.2,433.3 659.4,435.5 659.6,439.8 659.8,436.6 660.0,440.7 660.3,440.8 660.5,445.3 660.7,441.8 660.9,440.6 661.1,439.9 661.3,439.6 661.6,439.9 661.8,436.4 662.0,438.6 662.3,433.7 662.5,434.0 662.8,432.3 663.0,431.8 663.2,434.9 663.5,434.0 663.7,430.2 663.9,430.0 664.2,431.1 664.4,432.8 664.6,433.0 664.8,432.4 665.0,431.2 665.2,427.6 665.5,428.0 665.7,425.7 665.9,426.5 666.1,425.7 666.3,422.5 666.5,422.2 666.8,424.7 667.0,419.8 667.2,423.7 667.4,423.6 667.6,423.3 667.8,419.5 668.1,419.9 668.3,419.5 668.5,419.2 668.7,420.7 668.9,418.5 669.1,415.7 669.4,418.4 669.6,415.7 669.8,416.9 670.0,418.2 670.2,414.5 670.4,419.5 670.7,419.4 670.9,419.0 671.1,421.1 671.3,422.7 671.5,423.1 671.7,423.8 672.0,419.8 672.2,421.3 672.4,420.9 672.6,418.6 672.8,418.1 673.0,420.2 673.3,419.7 673.5,415.1 673.7,418.8 673.9,417.6 674.1,414.1 674.3,415.8 674.6,414.9 674.8,413.8 675.0,416.3 675.2,418.4 675.4,414.7 675.6,417.8 675.9,416.6 676.1,413.1 676.3,417.2 676.5,415.5 676.7,417.3 676.9,415.9 677.2,415.9 677.4,413.4 677.6,415.9 677.8,416.5 678.0,415.9 678.3,413.1 678.5,414.7 678.7,412.8 678.9,410.2 679.1,409.5 679.3,409.4 679.6,410.6 679.8,410.9 680.0,413.4 680.2,415.1 680.4,414.6 680.6,414.4 680.9,416.3 681.1,414.8 681.3,416.2 681.5,418.8 681.7,417.6 681.9,417.1 682.2,420.6 682.4,418.8 682.6,416.0 682.8,415.2 683.0,415.4 683.2,415.0 683.5,412.6 683.7,411.0 683.9,411.9 684.1,415.0 684.3,410.9 684.5,412.5 684.8,410.6 685.0,410.4 685.2,409.9 685.4,411.8 685.6,410.8 685.8,410.4 686.0,411.4 686.2,412.2 686.4,414.5 686.6,412.5 686.7,412.7 686.9,415.7 687.1,415.9 687.3,417.8 687.5,414.2 687.7,416.4 687.9,416.6 688.1,414.6 688.3,420.4 688.5,416.2 688.7,415.6 688.9,418.1 689.1,416.4 689.3,419.3 689.5,417.9 689.7,416.8 689.9,415.9 690.1,419.5 690.3,416.4 690.5,419.0 690.7,416.7 690.9,419.0 691.1,414.8 691.3,414.1 691.6,413.7 691.8,416.6 692.0,415.0 692.2,412.9 692.4,411.0 692.6,414.7 692.8,416.7 693.0,414.7 693.2,411.5 693.4,411.9 693.6,412.5 693.8,413.2 694.0,412.7 694.2,413.0 694.4,416.8 694.6,418.5 694.8,414.6 695.0,419.5 695.1,416.2 695.3,417.9 695.5,418.3 695.7,418.1 695.9,412.4 696.1,413.7 696.3,415.2 696.5,416.9 696.7,411.5 696.9,412.4 697.0,415.5 697.2,410.8 697.4,412.1 697.6,411.5 697.8,413.3 698.0,414.5 698.2,409.6 698.4,412.7 698.6,412.4 698.7,412.7 698.9,410.7 699.1,412.6 699.3,409.0 699.5,409.0 699.7,408.3 699.9,411.9 700.1,410.5 700.3,409.7 700.5,409.4 700.7,413.1 700.8,412.8 701.0,413.8 701.2,412.3 701.4,413.3 701.6,411.6 701.8,415.4 702.0,411.6 702.2,414.7 702.4,416.8 702.6,416.7 702.8,413.6 702.9,414.1 703.1,417.4 703.3,415.9 703.5,417.0 703.7,416.6 703.9,413.8 704.1,416.1 704.2,414.8 704.4,412.1 704.6,412.0 704.8,409.9 705.0,411.5 705.2,414.5 705.4,409.1 705.5,412.3 705.7,409.9 705.9,410.2 706.1,414.0 706.3,412.0 706.5,411.2 706.7,412.3 706.8,415.7 707.0,415.7 707.2,412.7 707.4,414.4 707.6,419.3 707.8,415.2 708.0,417.7 708.1,416.5 708.3,418.4 708.5,417.0 708.7,417.8 708.9,416.0 709.1,413.6 709.2,413.2 709.4,412.3 709.6,416.5 709.8,411.8 710.0,411.0 710.1,416.4 710.3,411.4 710.5,415.3 710.7,410.1 710.9,412.1 711.1,410.3 711.2,413.7 711.4,412.1 711.6,411.9 711.8,412.3 712.0,412.7 712.1,409.2 712.3,410.4 712.5,409.2 712.7,407.5 712.9,412.2 713.0,411.1 713.2,412.8 713.4,409.5 713.6,411.8 713.7,411.7 713.9,413.7 714.1,410.1 714.2,412.0 714.4,413.2 714.6,411.1 714.8,414.3 714.9,415.8 715.1,414.2 715.3,416.0 715.5,416.0 715.6,414.0 715.8,415.2 716.0,419.5 716.2,415.8 716.3,416.7 716.5,414.9 716.7,416.1 716.8,416.1 717.0,421.2 717.2,420.3 717.4,421.5 717.5,422.5 717.7,420.6 717.9,422.7 718.1,420.5 718.2,419.9 718.4,423.3 718.6,423.2 718.7,423.7 718.9,421.0 719.1,423.0 719.3,420.9 719.4,424.7 719.6,424.4 719.8,420.7 719.9,424.8 720.1,420.4 720.3,420.0 720.5,424.0 720.6,421.6 720.8,423.1 721.0,424.0 721.1,420.6 721.3,425.1 721.5,422.5 721.6,423.7 721.8,423.3 722.0,426.0 722.2,426.3 722.3,423.7 722.5,422.8 722.7,424.2 722.8,425.1 723.0,423.3 723.2,424.0 723.3,427.9 723.5,427.8 723.7,429.7 723.9,430.0 724.0,429.5 724.2,426.7 724.4,425.6 724.5,426.8 724.7,427.9 724.9,428.5 725.0,428.7 725.2,427.6 725.4,430.6 725.6,427.2 725.7,428.3 725.9,431.0 726.1,430.5 726.2,427.4 726.4,427.1 726.6,430.6 726.8,425.7 726.9,426.5 727.1,429.0 727.3,429.1 727.4,426.8 727.6,426.1 727.8,427.1 727.9,430.6 728.1,428.8 728.3,432.5 728.4,431.8 728.6,433.4 728.8,428.1 728.9,429.5 729.1,428.9 729.3,432.0 729.4,431.9 729.6,430.6 729.7,434.2 729.9,431.9 730.1,433.7 730.2,433.8 730.4,437.7 730.6,435.8 730.7,435.3 730.9,434.4 731.0,437.3 731.2,439.0 731.4,439.7 731.5,441.6 731.7,441.4 731.9,438.4 732.0,438.1 732.2,442.4 732.3,443.1 732.5,441.8 732.7,444.2 732.8,443.0 733.0,441.7 733.2,441.5 733.3,441.0 733.5,445.0 733.6,446.7 733.8,446.9 734.0,444.3 734.1,445.6 734.3,447.4 734.5,446.8 734.6,445.6 734.8,444.5 734.9,445.3 735.1,443.3 735.3,443.5 735.4,446.7 735.6,448.7 735.8,446.1 735.9,445.4 736.1,445.5 736.2,446.7 736.4,449.4 736.6,447.8 736.7,451.5 736.9,447.0 737.1,448.6 737.2,450.4 737.4,450.3 737.5,453.5 737.7,453.9 737.9,455.1 738.0,453.5 738.2,450.2 738.4,453.9 738.5,454.0 738.7,454.0 738.9,453.0 739.0,456.0 739.2,457.6 739.3,452.9 739.5,456.7 739.7,455.2 739.8,456.4 740.0,458.3 740.2,458.1 740.3,455.6 740.5,452.3 740.6,456.2 740.8,451.1 741.0,451.8 741.1,454.0 741.3,450.3 741.5,449.5 741.6,453.2 741.8,452.6 741.9,449.8 742.1,451.3 742.3,451.7 742.4,451.9 742.6,453.7 742.8,459.3 742.9,454.8 743.1,456.8 743.2,457.7 743.4,458.0 743.6,461.9 743.7,464.4 743.9,464.5 744.0,462.8 744.2,463.6 744.3,458.0 744.5,459.4 744.6,463.2 744.8,457.2 745.0,458.0 745.1,458.9 745.3,457.2 745.4,458.5 745.6,454.9 745.7,455.7 745.9,459.8 746.0,454.3 746.2,458.6 746.3,453.7 746.5,459.0 746.6,457.3 746.8,457.3 746.9,454.4 747.1,454.1 747.3,458.8 747.4,455.4 747.6,455.7 747.7,459.9 747.9,460.5 748.0,455.6 748.2,461.5 748.3,459.1 748.5,458.4 748.7,456.9 748.8,458.9 749.0,463.0 749.1,458.8 749.3,458.1 749.4,458.4 749.6,458.5 749.7,460.1 749.9,463.8 750.0,458.7 750.2,459.5 750.3,464.4 750.5,464.9 750.6,465.0 750.8,460.5 750.9,461.3 751.1,465.2 751.2,462.4 751.4,464.0 751.5,461.7 751.7,459.6 751.8,461.4 752.0,463.7 752.2,463.6 752.3,462.0 752.5,461.1 752.6,461.3 752.8,460.5 752.9,460.8 753.1,462.5 753.2,458.2 753.4,460.5 753.5,462.3 753.7,461.6 753.9,457.1 754.0,461.8 754.2,460.8 754.3,456.3 754.5,456.6 754.6,456.0 754.8,454.8 754.9,460.9 755.1,457.6 755.2,460.8 755.4,456.3 755.5,455.9 755.7,461.6 755.9,461.4 756.0,462.9 756.2,461.2 756.3,460.5 756.5,462.3 756.6,458.3 756.8,461.4 756.9,461.0 757.1,459.4 757.2,462.6 757.4,461.1 757.5,462.6 757.7,462.1 757.8,462.1 758.0,462.7 758.1,464.5 758.3,467.3 758.5,467.4 758.6,467.2 758.8,467.4 758.9,464.3 759.1,469.0 759.2,464.8 759.4,464.3 759.5,467.0 759.7,468.8 759.8,466.7 760.0,469.0 760.1,467.1 760.3,471.9 760.4,469.0 760.6,469.6 760.7,470.4 760.9,473.0 761.0,474.2 761.1,471.7 761.3,471.6 761.4,473.1 761.6,470.1 761.7,472.8 761.9,475.9 762.0,475.9 762.2,471.7 762.3,477.2 762.4,474.7 762.6,478.9 762.7,475.3 762.9,474.6 763.0,477.0 763.2,479.5 763.3,476.9 763.5,480.0 763.6,479.3 763.8,477.4 763.9,477.3 764.1,478.9 764.2,478.5 764.4,478.6 764.5,480.7 764.7,484.1 764.9,484.3 765.0,483.5 765.2,485.9 765.3,486.9 765.5,488.4 765.6,485.4 765.8,485.0 765.9,486.6 766.1,486.3 766.2,484.7 766.3,488.0 766.5,490.4 766.6,487.9 766.8,489.2 766.9,489.8 767.1,489.9 767.2,490.4 767.4,487.3 767.5,488.9 767.6,485.3 767.8,490.2 767.9,487.3 768.1,488.3 768.2,491.3 768.3,487.8 768.5,487.6 768.6,492.0 768.8,491.0 768.9,488.0 769.0,488.0 769.2,490.5 769.3,488.6 769.5,494.3 769.6,490.5 769.7,491.5 769.9,492.3 770.0,493.2 770.2,492.8 770.3,494.2 770.4,494.5 770.6,493.2 770.7,491.1 770.9,496.9 771.0,495.2 771.1,491.4 771.3,493.8 771.4,495.9 771.6,497.6 771.7,491.8 771.8,491.5 772.0,494.6 772.1,494.4 772.3,497.5 772.4,497.2 772.5,494.2 772.7,494.8 772.8,496.0 773.0,498.1 773.1,493.8 773.2,495.1 773.4,493.3 773.5,497.0 773.7,493.1 773.8,499.3 773.9,497.1 774.1,497.8 774.2,495.0 774.3,496.3 774.5,498.2 774.6,501.1 774.8,499.4 774.9,498.2 775.0,503.0 775.2,501.4 775.3,500.9 775.4,499.1 775.6,500.1 775.7,504.4 775.8,499.8 776.0,502.8 776.1,503.7 776.3,502.4 776.4,504.6 776.5,505.1 776.7,504.3 776.8,503.1 777.0,499.1 777.1,497.8 777.2,499.7 777.4,498.5 777.5,497.3 777.7,501.2 777.8,496.5 778.0,500.0 778.1,500.3 778.2,494.5 778.4,499.2 778.5,495.4 778.7,493.8 778.8,493.2 778.9,491.7 779.1,494.3 779.2,493.1 779.4,495.6 779.5,495.1 779.6,490.4 779.8,493.0 779.9,493.3 780.1,492.3 780.2,493.2 780.3,493.6 780.5,496.8 780.6,494.9 780.7,493.8 780.9,494.9 781.0,496.7 781.2,497.9 781.3,496.2 781.4,499.5 781.6,496.7 781.7,500.1 781.8,500.0 782.0,497.6 782.1,501.7 782.2,499.1 782.4,499.7 782.5,499.8 782.7,499.7 782.8,498.2 782.9,495.3 783.1,499.8 783.2,499.9 783.3,497.2 783.5,497.5 783.6,495.2 783.8,499.0 783.9,497.3 784.0,494.0 784.2,497.5 784.3,498.3 784.4,493.8 784.6,497.8 784.7,494.1 784.8,491.9 785.0,495.1 785.1,492.4 785.3,494.6 785.4,493.4 785.5,490.0 785.7,492.5 785.8,494.3 785.9,491.6 786.1,491.8 786.2,493.6 786.3,490.6 786.5,490.6 786.6,491.0 786.7,492.3 786.9,487.9 787.0,487.0 787.1,491.0 787.3,489.4 787.4,487.5 787.6,491.1 787.7,490.8 787.8,488.3 788.0,490.9 788.1,490.2 788.2,489.9 788.4,487.2 788.5,485.6 788.6,490.3 788.8,490.9 788.9,488.7 789.1,489.8 789.2,490.6 789.3,488.8 789.5,492.0 789.6,491.4 789.7,490.5 789.9,489.0 790.0,492.2 790.2,490.9 790.3,493.8 790.4,490.5 790.6,492.2 790.7,491.1 790.8,492.6 791.0,493.9 791.1,491.0 791.2,490.8 791.3,493.7 791.5,492.1 791.6,494.2 791.7,492.1 791.9,491.9 792.0,494.9 792.1,497.6 792.3,497.4 792.4,495.2 792.5,494.6 792.6,492.6 792.8,494.1 792.9,494.5 793.0,498.8 793.2,493.5 793.3,499.1 793.4,496.2 793.6,496.1 793.7,495.1 793.8,499.9 793.9,494.6 794.1,497.0 794.2,496.5 794.3,494.3 794.5,494.4 794.6,499.2 794.7,497.8 794.9,497.3 795.0,498.3 795.1,492.9 795.2,496.7 795.4,496.9 795.5,493.3 795.6,494.7 795.8,498.0 795.9,493.6 796.0,496.3 796.2,492.3 796.3,495.4 796.4,492.7 796.5,494.9 796.7,494.6 796.8,498.5 796.9,498.3 797.1,497.3 797.2,499.1 797.3,498.0 797.5,501.1 797.6,498.1 797.7,500.6 797.8,501.5 798.0,500.8 798.1,499.1 798.2,500.5 798.4,504.2 798.5,501.7 798.6,505.5 798.8,504.1 798.9,507.4 799.0,506.9 799.1,506.4 799.3,504.3 799.4,502.4 799.5,506.0 799.7,507.5 799.8,509.0 799.9,504.5 800.1,504.5 800.2,510.1 800.3,508.8 800.4,506.9 800.6,508.4 800.7,504.3 800.8,506.7 801.0,507.4 801.1,506.7 801.2,503.6 801.4,503.3 801.5,506.3 801.6,507.8 801.7,502.7 801.9,501.6 802.0,501.9 802.1,506.4 802.3,503.6 802.4,503.8 802.5,507.2 802.7,504.4 802.8,502.0 802.9,504.7 803.0,500.3 803.2,502.4 803.3,505.4 803.4,502.2 803.6,501.5 803.7,505.0 803.8,504.0 804.0,508.5 804.1,503.0 804.2,507.9 804.3,505.4 804.5,508.5 804.6,506.3 804.7,508.1 804.9,506.1 805.0,505.7 805.1,507.4 805.3,510.0 805.4,507.2 805.5,506.7 805.6,509.3 805.8,508.4 805.9,511.2 806.0,514.2 806.2,515.3 806.3,515.8 806.4,513.9 806.5,512.2 806.7,512.4 806.8,514.6 806.9,513.8 807.0,516.4 807.2,514.5 807.3,517.9 807.4,516.9 807.5,517.5 807.7,518.1 807.8,516.8 807.9,516.3 808.0,515.6 808.2,514.1 808.3,519.1 808.4,517.3 808.5,514.7 808.6,520.3 808.8,518.2 808.9,518.9 809.0,518.2 809.1,516.6 809.3,522.9 809.4,517.9 809.5,519.7 809.6,524.4 809.8,519.1 809.9,522.1 810.0,522.4 810.1,521.4 810.3,526.4 810.4,523.5 810.5,521.3 810.6,524.9 810.8,522.3 810.9,527.4 811.0,529.0 811.1,529.7 811.2,524.5 811.4,529.2 811.5,527.1 811.6,528.6 811.7,527.8 811.9,528.2 812.0,527.4 812.1,531.1 812.2,527.9 812.4,534.1 812.5,528.3 812.6,534.8 812.7,530.1 812.9,529.7 813.0,534.5 813.1,533.4 813.2,535.4 813.4,534.0 813.5,535.2 813.6,531.9 813.7,536.3 813.8,535.5 814.0,538.9 814.1,532.0 814.2,531.8 814.3,535.3 814.5,536.4 814.6,532.5 814.7,533.8 814.8,532.3 814.9,530.6 815.1,530.5 815.2,530.8 815.3,526.4 815.4,527.7 815.6,530.0 815.7,526.3 815.8,527.1 815.9,525.1 816.0,525.1 816.2,526.4 816.3,526.4 816.4,527.2 816.5,523.3 816.7,520.8 816.8,521.1 816.9,518.6 817.0,519.1 817.1,520.8 817.3,520.3 817.4,517.2 817.5,516.1 817.6,514.9 817.8,514.8 817.9,516.3 818.0,515.2 818.1,519.9 818.2,518.2 818.4,517.2 818.5,518.3 818.6,516.2 818.7,521.3 818.9,521.9 819.0,519.8 819.1,522.7 819.2,520.2 819.3,520.3 819.5,520.8 819.6,521.1 819.7,524.4 819.8,525.1 819.9,526.0 820.1,522.2 820.2,527.0 820.3,525.4 820.4,525.1 820.5,526.3 820.7,526.2 820.8,525.0 820.9,526.6 821.0,528.7 821.1,529.5 821.2,531.2 821.4,526.7 821.5,531.7 821.6,531.5 821.7,531.2 821.8,533.4 822.0,528.1 822.1,532.7 822.2,533.9 822.3,529.0 822.4,532.6 822.5,534.1 822.7,528.9 822.8,531.8 822.9,531.4 823.0,527.4 823.1,524.6 823.3,524.2 823.4,527.5 823.5,524.0 823.6,522.4 823.7,522.4 823.8,524.7 824.0,519.0 824.1,516.4 824.2,521.6 824.3,516.3 824.4,515.7 824.6,518.6 824.7,512.8 824.8,510.5 824.9,514.8 825.0,509.4 825.1,509.5 825.3,514.7 825.4,510.2 825.5,515.0 825.6,511.5 825.7,511.6 825.9,511.3 826.0,513.8 826.1,514.2 826.2,513.4 826.3,514.4 826.4,513.3 826.6,517.3 826.7,518.2 826.8,517.3 826.9,518.0 827.0,513.2 827.2,514.8 827.3,514.7 827.4,514.7 827.5,520.5 827.6,520.4 827.7,520.5 827.9,518.2 828.0,515.3 828.1,517.4 828.2,515.0 828.3,520.8 828.4,516.6 828.5,516.8 828.7,521.3 828.8,516.4 828.9,521.3 829.0,517.3 829.1,519.7 829.2,516.0 829.4,521.5 829.5,518.2 829.6,517.9 829.7,520.7 829.8,521.0 829.9,519.4 830.1,519.2 830.2,523.0 830.3,520.0 830.4,526.4 830.5,523.5 830.6,523.1 830.8,524.9 830.9,524.1 831.0,526.2 831.1,528.4 831.2,528.2 831.4,528.4 831.5,528.9 831.6,530.9 831.7,533.6 831.8,532.0 831.9,534.9 832.1,533.7 832.2,532.0 832.3,533.2 832.4,538.6 832.5,537.0 832.6,537.2 832.7,539.0 832.8,542.1 832.9,539.2 833.1,539.4 833.2,539.8 833.3,537.7 833.4,541.6 833.5,541.5 833.7,542.0 833.8,542.0 833.9,542.4 834.0,544.4 834.1,541.1 834.2,546.9 834.4,541.3 834.5,546.7 834.6,542.3 834.7,546.9 834.8,543.6 835.0,542.6 835.1,546.5 835.2,549.2 835.3,550.0 835.4,550.9 835.5,552.3 835.7,546.7 835.8,549.7 835.9,548.5 836.0,553.6 836.1,552.3 836.3,555.0 836.4,555.2 836.5,556.5 836.6,554.3 836.7,555.5 836.8,553.2 837.0,549.9 837.1,555.3 837.2,549.8 837.3,549.7 837.4,554.6 837.5,550.8 837.7,553.3 837.8,548.9 837.9,550.0 838.0,553.4 838.1,548.7 838.2,551.8 838.3,554.6 838.5,549.6 838.6,552.9 838.7,553.0 838.8,552.1 838.9,553.0 839.0,552.4 839.2,547.7 839.3,548.8 839.4,551.1 839.5,553.9 839.6,549.5 839.7,552.7 839.9,550.2 840.0,555.8 840.1,553.8 840.2,555.0 840.3,556.7 840.4,553.7 840.5,558.5 840.7,559.7 840.8,560.8 840.9,557.5 841.0,557.9 841.1,558.1 841.2,563.8 841.3,561.3 841.5,561.7 841.6,562.2 841.7,563.1 841.8,560.2 841.9,559.9 842.0,562.6 842.1,562.3 842.3,558.7 842.4,556.8 842.5,562.3 842.6,560.6 842.7,559.3 842.8,557.7 842.9,561.2 843.0,557.2 843.2,555.4 843.3,554.3 843.4,555.6 843.5,557.0 843.6,555.1 843.7,558.7 843.8,556.3 843.9,554.7 844.1,555.7 844.2,554.8 844.3,554.4 844.4,553.0 844.5,552.6 844.6,551.9 844.7,553.7 844.9,548.8 845.0,552.3 845.1,548.4 845.2,551.7 845.3,545.8 845.4,548.1 845.6,547.3 845.7,548.6 845.8,544.5 845.9,544.4 846.0,543.0 846.1,546.8 846.2,547.8 846.3,544.7 846.4,546.8 846.6,547.8 846.7,553.9 846.8,551.3 846.9,552.9 847.0,551.9 847.1,555.3 847.2,557.2 847.3,557.1 847.4,553.1 847.5,556.8 847.6,557.8 847.7,555.4 847.9,561.2 848.0,558.6 848.1,559.1 848.2,562.0 848.3,562.4 848.4,562.4 848.5,565.6 848.6,563.9 848.7,562.4 848.8,560.3 849.0,563.4 849.1,561.9 849.2,562.8 849.3,561.3 849.4,558.7 849.5,558.7 849.6,559.3 849.7,558.7 849.9,563.7 850.0,561.6 850.1,559.0 850.2,562.0 850.3,561.3 850.4,557.1 850.5,561.6 850.6,557.8 850.8,562.9 850.9,556.7 851.0,557.5 851.1,557.0 851.2,561.0 851.3,561.5 851.4,560.6 851.5,558.4 851.6,561.1 851.8,563.7 851.9,560.0 852.0,566.7 852.1,567.0 852.2,568.3 852.3,567.5 852.4,567.7 852.5,570.9 852.6,566.6 852.7,567.4 852.8,566.8 852.9,567.7 853.1,572.6 853.2,568.3 853.3,573.4 853.4,571.5 853.5,575.4 853.6,575.2 853.7,575.3 853.8,577.0 853.9,572.0 854.0,574.1 854.1,575.4 854.2,576.4 854.4,578.6 854.5,580.7 854.6,580.2 854.7,582.1 854.8,581.0 854.9,579.2 855.0,580.8 855.1,583.0 855.2,584.0 855.3,581.5 855.4,581.9 855.5,584.2 855.7,582.1 855.8,587.2 855.9,580.4 856.0,584.3 856.1,582.5 856.2,579.8 856.3,581.8 856.4,580.5 856.5,583.2 856.6,582.0 856.7,579.3 856.8,580.6 857.0,580.0 857.1,574.4 857.2,578.4 857.3,577.7 857.4,578.2 857.5,575.9 857.6,572.7 857.7,570.8 857.8,573.2 857.9,569.5 858.0,572.7 858.1,570.7 858.3,571.8 858.4,567.9 858.5,566.9 858.6,570.4 858.7,568.1 858.8,565.5 858.9,566.1 859.0,564.6 859.1,566.5 859.2,566.2 859.3,565.1 859.5,570.4 859.6,570.2 859.7,569.9 859.8,567.0 859.9,566.9 860.0,571.2 860.1,572.3 860.2,571.7 860.3,569.1 860.4,573.1 860.5,572.3 860.6,571.7 860.8,573.7 860.9,573.3 861.0,575.2 861.1,576.2 861.2,578.2 861.3,572.5 861.4,576.1 861.5,579.0 861.6,577.4 861.7,577.2 861.8,579.5 861.9,574.1 862.1,579.8 862.2,579.0 862.3,579.1 862.4,577.5 862.5,580.0 862.6,576.9 862.7,580.1 862.8,578.6 862.9,583.6 863.0,583.1 863.1,581.2 863.2,583.5 863.4,581.3 863.5,582.6 863.6,580.4 863.7,585.7 863.8,585.4 863.9,585.7 864.0,581.3 864.1,586.8 864.2,581.6 864.3,585.8 864.4,585.6 864.5,583.0 864.7,585.9 864.8,589.5 864.9,588.0 865.0,585.3 865.1,588.3 865.2,584.5 865.3,587.7 865.4,583.7 865.5,580.9 865.6,586.6 865.7,579.8 865.8,580.5 866.0,583.6 866.1,578.5 866.2,580.9 866.3,582.5 866.4,580.0 866.5,577.6 866.6,579.8 866.7,579.7 866.8,577.3 866.9,577.0 867.0,574.2 867.1,574.1 867.3,577.6 867.4,576.8 867.5,569.3 867.6,570.2 867.7,569.9 867.8,573.4 867.9,568.7 868.0,568.0 868.1,571.7 868.2,567.0 868.3,572.1 868.4,568.0 868.6,570.6 868.7,569.5 868.8,564.7 868.9,568.3 869.0,565.2 869.1,563.3 869.2,561.6 869.3,565.7 869.4,564.2 869.5,562.7 869.6,566.7 869.7,562.6 869.8,564.7 869.9,562.5 870.0,564.7 870.1,568.8 870.2,566.5 870.3,564.4 870.4,565.3 870.6,568.5 870.7,566.3 870.8,570.9 870.9,565.4 871.0,571.5 871.1,570.1 871.2,571.8 871.3,568.9 871.4,567.2 871.5,568.3 871.6,571.9 871.7,568.1 871.8,569.1 871.9,574.3 872.0,575.4 872.1,575.6 872.2,575.9 872.3,574.3 872.4,577.0 872.5,576.1 872.6,575.6 872.7,575.0 872.8,572.6 872.9,573.5 873.0,575.0 873.1,576.9 873.2,575.0 873.3,581.3 873.4,578.0 873.5,578.5 873.6,579.0 873.7,573.6 873.8,577.7 873.9,577.6 874.0,572.1 874.1,570.5 874.2,574.6 874.3,574.6 874.5,573.4 874.6,570.0 874.7,570.7 874.8,566.7 874.9,566.9 875.0,567.6 875.1,569.3 875.2,564.0 875.3,569.3 875.4,562.7 875.5,569.0 875.6,563.4 875.7,567.2 875.8,566.9 875.9,567.5 876.0,563.7 876.1,565.0 876.2,561.8 876.3,565.3 876.4,559.8 876.5,564.9 876.6,562.5 876.7,558.4 876.8,564.3 876.9,559.6 877.0,557.5 877.1,558.5 877.2,556.5 877.3,559.0 877.4,562.8 877.5,565.5 877.6,563.8 877.7,566.1 877.8,566.6 877.9,566.6 878.0,565.0 878.1,564.8 878.3,564.9 878.4,568.4 878.5,566.8 878.6,571.3 878.7,569.1 878.8,571.7 878.9,572.2 879.0,573.5 879.1,570.9 879.2,572.4 879.3,574.9 879.4,571.0 879.5,573.7 879.6,575.2 879.7,570.6 879.8,574.1 879.9,571.1 880.0,572.9 880.1,569.4 880.2,570.4 880.3,569.4 880.4,565.4 880.5,567.1 880.6,567.0 880.7,565.7 880.8,566.5 880.9,567.7 881.0,566.4 881.1,565.9 881.2,560.9 881.3,564.6 881.4,563.8 881.5,565.7 881.6,558.8 881.7,559.8 881.8,565.2 881.9,560.6 882.1,562.7 882.2,561.6 882.3,560.0 882.4,560.0 882.5,560.6 882.6,563.3 882.7,559.9 882.8,561.4 882.9,557.7 883.0,560.3 883.1,559.3 883.2,561.2 883.3,563.0 883.4,558.2 883.5,565.4 883.6,563.8 883.7,562.2 883.8,564.6 883.9,562.9 884.0,564.7 884.1,569.9 884.2,569.9 884.3,571.9 884.4,567.8 884.5,567.0 884.6,568.4 884.7,568.8 884.8,569.8 884.9,566.4 885.0,569.0 885.1,567.5 885.2,564.9 885.3,568.0 885.4,562.4 885.5,565.6 885.6,562.3 885.7,560.7 885.8,563.4 885.9,563.2 886.0,563.4 886.1,561.2 886.2,564.7 886.3,563.1 886.4,558.8 886.5,557.8 886.6,564.7 886.7,560.9 886.8,558.8 886.9,559.4 887.0,563.3 887.1,559.6 887.2,561.1 887.3,563.4 887.4,561.2 887.5,563.4 887.6,565.6 887.7,564.6 887.8,563.5 887.9,563.6 888.0,561.5 888.1,563.9 888.2,564.1 888.3,563.7 888.4,563.2 888.5,565.1 888.6,561.3 888.7,565.0 888.8,567.0 888.9,560.4" stroke="#ff0000" stroke-width="3.46" stroke-dasharray="12.79 5.53" stroke-linejoin="round" stroke-linecap="butt"/>
<line x1="140.7" y1="30.4" x2="888.6" y2="425.1" stroke="#000" stroke-width="3.65" stroke-linecap="square"/>
</g>
<g stroke="#000" fill="none"><line x1="140.7" y1="615.5" x2="140.7" y2="623.9" stroke-width="1.84"/><line x1="327.7" y1="615.5" x2="327.7" y2="623.9" stroke-width="1.84"/><line x1="514.7" y1="615.5" x2="514.7" y2="623.9" stroke-width="1.84"/><line x1="701.6" y1="615.5" x2="701.6" y2="623.9" stroke-width="1.84"/><line x1="888.6" y1="615.5" x2="888.6" y2="623.9" stroke-width="1.84"/><line x1="111.7" y1="615.5" x2="111.7" y2="620.7" stroke-width="1.38"/><line x1="122.6" y1="615.5" x2="122.6" y2="620.7" stroke-width="1.38"/><line x1="132.1" y1="615.5" x2="132.1" y2="620.7" stroke-width="1.38"/><line x1="197.0" y1="615.5" x2="197.0" y2="620.7" stroke-width="1.38"/><line x1="229.9" y1="615.5" x2="229.9" y2="620.7" stroke-width="1.38"/><line x1="253.3" y1="615.5" x2="253.3" y2="620.7" stroke-width="1.38"/><line x1="271.4" y1="615.5" x2="271.4" y2="620.7" stroke-width="1.38"/><line x1="286.2" y1="615.5" x2="286.2" y2="620.7" stroke-width="1.38"/><line x1="298.7" y1="615.5" x2="298.7" y2="620.7" stroke-width="1.38"/><line x1="309.6" y1="615.5" x2="309.6" y2="620.7" stroke-width="1.38"/><line x1="319.1" y1="615.5" x2="319.1" y2="620.7" stroke-width="1.38"/><line x1="384.0" y1="615.5" x2="384.0" y2="620.7" stroke-width="1.38"/><line x1="416.9" y1="615.5" x2="416.9" y2="620.7" stroke-width="1.38"/><line x1="440.3" y1="615.5" x2="440.3" y2="620.7" stroke-width="1.38"/><line x1="458.4" y1="615.5" x2="458.4" y2="620.7" stroke-width="1.38"/><line x1="473.2" y1="615.5" x2="473.2" y2="620.7" stroke-width="1.38"/><line x1="485.7" y1="615.5" x2="485.7" y2="620.7" stroke-width="1.38"/><line x1="496.5" y1="615.5" x2="496.5" y2="620.7" stroke-width="1.38"/><line x1="506.1" y1="615.5" x2="506.1" y2="620.7" stroke-width="1.38"/><line x1="570.9" y1="615.5" x2="570.9" y2="620.7" stroke-width="1.38"/><line x1="603.9" y1="615.5" x2="603.9" y2="620.7" stroke-width="1.38"/><line x1="627.2" y1="615.5" x2="627.2" y2="620.7" stroke-width="1.38"/><line x1="645.4" y1="615.5" x2="645.4" y2="620.7" stroke-width="1.38"/><line x1="660.2" y1="615.5" x2="660.2" y2="620.7" stroke-width="1.38"/><line x1="672.7" y1="615.5" x2="672.7" y2="620.7" stroke-width="1.38"/><line x1="683.5" y1="615.5" x2="683.5" y2="620.7" stroke-width="1.38"/><line x1="693.1" y1="615.5" x2="693.1" y2="620.7" stroke-width="1.38"/><line x1="757.9" y1="615.5" x2="757.9" y2="620.7" stroke-width="1.38"/><line x1="790.9" y1="615.5" x2="790.9" y2="620.7" stroke-width="1.38"/><line x1="814.2" y1="615.5" x2="814.2" y2="620.7" stroke-width="1.38"/><line x1="832.3" y1="615.5" x2="832.3" y2="620.7" stroke-width="1.38"/><line x1="847.1" y1="615.5" x2="847.1" y2="620.7" stroke-width="1.38"/><line x1="859.7" y1="615.5" x2="859.7" y2="620.7" stroke-width="1.38"/><line x1="870.5" y1="615.5" x2="870.5" y2="620.7" stroke-width="1.38"/><line x1="880.1" y1="615.5" x2="880.1" y2="620.7" stroke-width="1.38"/><line x1="103.4" y1="424.9" x2="95.0" y2="424.9" stroke-width="1.84"/><line x1="926.1" y1="424.9" x2="934.5" y2="424.9" stroke-width="1.84"/><line x1="103.4" y1="227.6" x2="95.0" y2="227.6" stroke-width="1.84"/><line x1="926.1" y1="227.6" x2="934.5" y2="227.6" stroke-width="1.84"/><line x1="103.4" y1="30.4" x2="95.0" y2="30.4" stroke-width="1.84"/><line x1="926.1" y1="30.4" x2="934.5" y2="30.4" stroke-width="1.84"/><line x1="103.4" y1="562.7" x2="98.2" y2="562.7" stroke-width="1.38"/><line x1="926.1" y1="562.7" x2="931.3" y2="562.7" stroke-width="1.38"/><line x1="103.4" y1="528.0" x2="98.2" y2="528.0" stroke-width="1.38"/><line x1="926.1" y1="528.0" x2="931.3" y2="528.0" stroke-width="1.38"/><line x1="103.4" y1="503.3" x2="98.2" y2="503.3" stroke-width="1.38"/><line x1="926.1" y1="503.3" x2="931.3" y2="503.3" stroke-width="1.38"/><line x1="103.4" y1="484.2" x2="98.2" y2="484.2" stroke-width="1.38"/><line x1="926.1" y1="484.2" x2="931.3" y2="484.2" stroke-width="1.38"/><line x1="103.4" y1="468.6" x2="98.2" y2="468.6" stroke-width="1.38"/><line x1="926.1" y1="468.6" x2="931.3" y2="468.6" stroke-width="1.38"/><line x1="103.4" y1="455.4" x2="98.2" y2="455.4" stroke-width="1.38"/><line x1="926.1" y1="455.4" x2="931.3" y2="455.4" stroke-width="1.38"/><line x1="103.4" y1="444.0" x2="98.2" y2="444.0" stroke-width="1.38"/><line x1="926.1" y1="444.0" x2="931.3" y2="444.0" stroke-width="1.38"/><line x1="103.4" y1="433.9" x2="98.2" y2="433.9" stroke-width="1.38"/><line x1="926.1" y1="433.9" x2="931.3" y2="433.9" stroke-width="1.38"/><line x1="103.4" y1="365.5" x2="98.2" y2="365.5" stroke-width="1.38"/><line x1="926.1" y1="365.5" x2="931.3" y2="365.5" stroke-width="1.38"/><line x1="103.4" y1="330.7" x2="98.2" y2="330.7" stroke-width="1.38"/><line x1="926.1" y1="330.7" x2="931.3" y2="330.7" stroke-width="1.38"/><line x1="103.4" y1="306.1" x2="98.2" y2="306.1" stroke-width="1.38"/><line x1="926.1" y1="306.1" x2="931.3" y2="306.1" stroke-width="1.38"/><line x1="103.4" y1="287.0" x2="98.2" y2="287.0" stroke-width="1.38"/><line x1="926.1" y1="287.0" x2="931.3" y2="287.0" stroke-width="1.38"/><line x1="103.4" y1="271.4" x2="98.2" y2="271.4" stroke-width="1.38"/><line x1="926.1" y1="271.4" x2="931.3" y2="271.4" stroke-width="1.38"/><line x1="103.4" y1="258.2" x2="98.2" y2="258.2" stroke-width="1.38"/><line x1="926.1" y1="258.2" x2="931.3" y2="258.2" stroke-width="1.38"/><line x1="103.4" y1="246.7" x2="98.2" y2="246.7" stroke-width="1.38"/><line x1="926.1" y1="246.7" x2="931.3" y2="246.7" stroke-width="1.38"/><line x1="103.4" y1="236.6" x2="98.2" y2="236.6" stroke-width="1.38"/><line x1="926.1" y1="236.6" x2="931.3" y2="236.6" stroke-width="1.38"/><line x1="103.4" y1="168.2" x2="98.2" y2="168.2" stroke-width="1.38"/><line x1="926.1" y1="168.2" x2="931.3" y2="168.2" stroke-width="1.38"/><line x1="103.4" y1="133.5" x2="98.2" y2="133.5" stroke-width="1.38"/><line x1="926.1" y1="133.5" x2="931.3" y2="133.5" stroke-width="1.38"/><line x1="103.4" y1="108.8" x2="98.2" y2="108.8" stroke-width="1.38"/><line x1="926.1" y1="108.8" x2="931.3" y2="108.8" stroke-width="1.38"/><line x1="103.4" y1="89.7" x2="98.2" y2="89.7" stroke-width="1.38"/><line x1="926.1" y1="89.7" x2="931.3" y2="89.7" stroke-width="1.38"/><line x1="103.4" y1="74.1" x2="98.2" y2="74.1" stroke-width="1.38"/><line x1="926.1" y1="74.1" x2="931.3" y2="74.1" stroke-width="1.38"/><line x1="103.4" y1="60.9" x2="98.2" y2="60.9" stroke-width="1.38"/><line x1="926.1" y1="60.9" x2="931.3" y2="60.9" stroke-width="1.38"/><line x1="103.4" y1="49.5" x2="98.2" y2="49.5" stroke-width="1.38"/><line x1="926.1" y1="49.5" x2="931.3" y2="49.5" stroke-width="1.38"/><line x1="103.4" y1="39.4" x2="98.2" y2="39.4" stroke-width="1.38"/><line x1="926.1" y1="39.4" x2="931.3" y2="39.4" stroke-width="1.38"/></g>
<rect x="103.4" y="2.1" width="822.7" height="613.4" fill="none" stroke="#000" stroke-width="1.84" stroke-linejoin="miter"/>
<g><text x="48.1" y="39.3" font-size="23.4" textLength="28.6" lengthAdjust="spacingAndGlyphs">10</text><text x="77.4" y="30.5" font-size="16.0">0</text><text x="943.0" y="39.3" font-size="23.4" textLength="28.6" lengthAdjust="spacingAndGlyphs">10</text><text x="972.2" y="30.5" font-size="16.0">0</text><text x="34.8" y="236.7" font-size="23.4" textLength="28.6" lengthAdjust="spacingAndGlyphs">10</text><rect x="65.2" y="222.4" width="10.1" height="1.4" fill="#000"/><text x="77.0" y="227.9" font-size="16.0">1</text><text x="943.0" y="236.7" font-size="23.4" textLength="28.6" lengthAdjust="spacingAndGlyphs">10</text><rect x="973.3" y="222.4" width="10.1" height="1.4" fill="#000"/><text x="985.6" y="227.9" font-size="16.0">1</text><text x="34.8" y="433.4" font-size="23.4" textLength="28.6" lengthAdjust="spacingAndGlyphs">10</text><rect x="65.2" y="419.1" width="10.1" height="1.4" fill="#000"/><text x="77.0" y="424.6" font-size="16.0">2</text><text x="943.0" y="433.4" font-size="23.4" textLength="28.6" lengthAdjust="spacingAndGlyphs">10</text><rect x="973.3" y="419.1" width="10.1" height="1.4" fill="#000"/><text x="985.6" y="424.6" font-size="16.0">2</text><text x="121.7" y="651.1" font-size="23.4" textLength="28.6" lengthAdjust="spacingAndGlyphs">10</text><text x="151.0" y="642.0" font-size="16.0">0</text><text x="308.7" y="651.1" font-size="23.4" textLength="28.6" lengthAdjust="spacingAndGlyphs">10</text><text x="338.0" y="642.0" font-size="16.0">1</text><text x="495.7" y="651.1" font-size="23.4" textLength="28.6" lengthAdjust="spacingAndGlyphs">10</text><text x="525.0" y="642.0" font-size="16.0">2</text><text x="682.6" y="651.1" font-size="23.4" textLength="28.6" lengthAdjust="spacingAndGlyphs">10</text><text x="711.9" y="642.0" font-size="16.0">3</text><text x="869.6" y="651.1" font-size="23.4" textLength="28.6" lengthAdjust="spacingAndGlyphs">10</text><text x="898.9" y="642.0" font-size="16.0">4</text><text x="387.6" y="685.8" font-size="23.4" textLength="222.9" lengthAdjust="spacingAndGlyphs">number of samples</text><text x="617.2" y="685.8" font-size="23.4" font-style="italic">n</text><text x="632.0" y="689.0" font-size="16.0" font-style="italic">s</text><text transform="translate(18.6,385.4) rotate(-90)" x="0" y="0" font-size="23.4" textLength="151.7" lengthAdjust="spacingAndGlyphs">relative error</text></g>
<rect x="115.7" y="486.4" width="372.3" height="118.7" rx="4.6" ry="4.6" fill="#fff" fill-opacity="0.8" stroke="#cccccc" stroke-opacity="0.8" stroke-width="2.30"/>
<line x1="124.0" y1="509.9" x2="170.6" y2="509.9" stroke="#000" stroke-width="3.46" stroke-linecap="square"/>
<line x1="124.0" y1="546.7" x2="170.6" y2="546.7" stroke="#ff0000" stroke-width="3.46" stroke-dasharray="12.79 5.53"/>
<line x1="124.0" y1="582.4" x2="170.6" y2="582.4" stroke="#0000ff" stroke-width="3.46" stroke-dasharray="3.46 5.70"/>
<g><text x="190.7" y="517.8" font-size="23.4">1</text><path d="M205.3,518.8 L210.0,500.5" fill="none" stroke="#000" stroke-width="1.9"/><path d="M214.6,510.6 L218.3,520.0" fill="none" stroke="#000" stroke-width="1.9"/><path d="M218.4,520.3 L224.9,498.8 L255.7,498.8" fill="none" stroke="#000" stroke-width="1.0"/><text x="228.6" y="517.8" font-size="23.4" font-style="italic">n</text><text x="243.3" y="521.3" font-size="16.0" font-style="italic">s</text><text x="189.2" y="555.0" font-size="23.4" font-style="italic">N</text><text x="212.3" y="555.0" font-size="23.4" textLength="17.0" lengthAdjust="spacingAndGlyphs">=</text><text x="234.1" y="555.0" font-size="23.4" textLength="227.9" lengthAdjust="spacingAndGlyphs">64, QASM simulator</text><text x="189.2" y="590.4" font-size="23.4" font-style="italic">N</text><text x="212.3" y="590.4" font-size="23.4" textLength="17.0" lengthAdjust="spacingAndGlyphs">=</text><text x="235.4" y="590.4" font-size="23.4" textLength="242.0" lengthAdjust="spacingAndGlyphs">128, QASM simulator</text></g>
</svg></body></html>
